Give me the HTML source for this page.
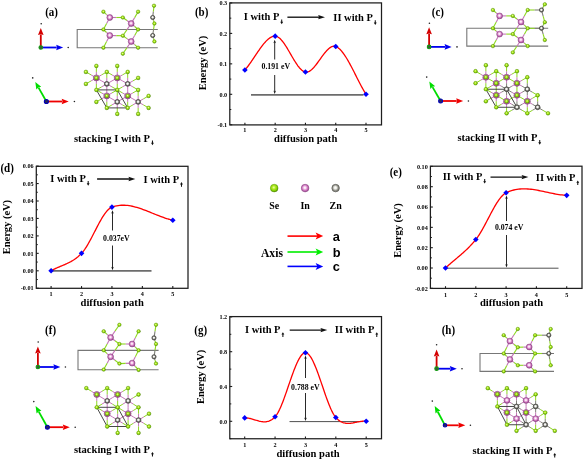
<!DOCTYPE html>
<html><head><meta charset="utf-8"><style>
html,body{margin:0;padding:0;background:#fff;}
body{width:583px;height:459px;overflow:hidden;font-family:"Liberation Serif",serif;}
svg{display:block;filter:blur(0.3px);}
</style></head><body>
<svg width="583" height="459" viewBox="0 0 583 459">
<rect width="583" height="459" fill="#fff"/>
<defs>
<radialGradient id="gSe" cx="0.45" cy="0.42" r="0.6"><stop offset="0" stop-color="#f0ffb0"/><stop offset="0.35" stop-color="#b4ec28"/><stop offset="0.75" stop-color="#7ccc00"/><stop offset="1" stop-color="#3f7a00"/></radialGradient>
<radialGradient id="gIn" cx="0.47" cy="0.45" r="0.58"><stop offset="0" stop-color="#ffffff"/><stop offset="0.22" stop-color="#fae0f4"/><stop offset="0.55" stop-color="#d884c8"/><stop offset="0.85" stop-color="#a8509c"/><stop offset="1" stop-color="#74306c"/></radialGradient>
<radialGradient id="gZn" cx="0.47" cy="0.45" r="0.58"><stop offset="0" stop-color="#ffffff"/><stop offset="0.3" stop-color="#eeeeea"/><stop offset="0.55" stop-color="#8a8a84"/><stop offset="0.8" stop-color="#55554f"/><stop offset="1" stop-color="#3a3a36"/></radialGradient>
<radialGradient id="gZnL" cx="0.47" cy="0.45" r="0.58"><stop offset="0" stop-color="#ffffff"/><stop offset="0.3" stop-color="#ececE6"/><stop offset="0.6" stop-color="#9c9c94"/><stop offset="0.85" stop-color="#76766e"/><stop offset="1" stop-color="#55554f"/></radialGradient>
</defs>
<rect x="229.80" y="2.90" width="151.70" height="122.00" fill="none" stroke="#1e1e1e" stroke-width="1.25"/>
<line x1="229.80" y1="2.95" x2="232.20" y2="2.95" stroke="#1c1c1c" stroke-width="1.1"/>
<text x="0" y="0" font-family="'Liberation Serif', serif" font-size="6.2" font-weight="bold" text-anchor="end" fill="#000" transform="translate(227.20 5.15) scale(1 1.06)">0.3</text>
<line x1="229.80" y1="33.40" x2="232.20" y2="33.40" stroke="#1c1c1c" stroke-width="1.1"/>
<text x="0" y="0" font-family="'Liberation Serif', serif" font-size="6.2" font-weight="bold" text-anchor="end" fill="#000" transform="translate(227.20 35.60) scale(1 1.06)">0.2</text>
<line x1="229.80" y1="63.85" x2="232.20" y2="63.85" stroke="#1c1c1c" stroke-width="1.1"/>
<text x="0" y="0" font-family="'Liberation Serif', serif" font-size="6.2" font-weight="bold" text-anchor="end" fill="#000" transform="translate(227.20 66.05) scale(1 1.06)">0.1</text>
<line x1="229.80" y1="94.30" x2="232.20" y2="94.30" stroke="#1c1c1c" stroke-width="1.1"/>
<text x="0" y="0" font-family="'Liberation Serif', serif" font-size="6.2" font-weight="bold" text-anchor="end" fill="#000" transform="translate(227.20 96.50) scale(1 1.06)">0.0</text>
<line x1="229.80" y1="124.75" x2="232.20" y2="124.75" stroke="#1c1c1c" stroke-width="1.1"/>
<text x="0" y="0" font-family="'Liberation Serif', serif" font-size="6.2" font-weight="bold" text-anchor="end" fill="#000" transform="translate(227.20 126.95) scale(1 1.06)">-0.1</text>
<line x1="229.80" y1="18.17" x2="231.30" y2="18.17" stroke="#1c1c1c" stroke-width="1.0"/>
<line x1="229.80" y1="48.62" x2="231.30" y2="48.62" stroke="#1c1c1c" stroke-width="1.0"/>
<line x1="229.80" y1="79.08" x2="231.30" y2="79.08" stroke="#1c1c1c" stroke-width="1.0"/>
<line x1="229.80" y1="109.52" x2="231.30" y2="109.52" stroke="#1c1c1c" stroke-width="1.0"/>
<line x1="244.90" y1="124.90" x2="244.90" y2="122.70" stroke="#1c1c1c" stroke-width="1.1"/>
<text x="0" y="0" font-family="'Liberation Serif', serif" font-size="6.2" font-weight="bold" text-anchor="middle" fill="#000" transform="translate(244.90 132.10) scale(1 1.06)">1</text>
<line x1="275.18" y1="124.90" x2="275.18" y2="122.70" stroke="#1c1c1c" stroke-width="1.1"/>
<text x="0" y="0" font-family="'Liberation Serif', serif" font-size="6.2" font-weight="bold" text-anchor="middle" fill="#000" transform="translate(275.18 132.10) scale(1 1.06)">2</text>
<line x1="305.45" y1="124.90" x2="305.45" y2="122.70" stroke="#1c1c1c" stroke-width="1.1"/>
<text x="0" y="0" font-family="'Liberation Serif', serif" font-size="6.2" font-weight="bold" text-anchor="middle" fill="#000" transform="translate(305.45 132.10) scale(1 1.06)">3</text>
<line x1="335.73" y1="124.90" x2="335.73" y2="122.70" stroke="#1c1c1c" stroke-width="1.1"/>
<text x="0" y="0" font-family="'Liberation Serif', serif" font-size="6.2" font-weight="bold" text-anchor="middle" fill="#000" transform="translate(335.73 132.10) scale(1 1.06)">4</text>
<line x1="366.00" y1="124.90" x2="366.00" y2="122.70" stroke="#1c1c1c" stroke-width="1.1"/>
<text x="0" y="0" font-family="'Liberation Serif', serif" font-size="6.2" font-weight="bold" text-anchor="middle" fill="#000" transform="translate(366.00 132.10) scale(1 1.06)">5</text>
<text x="0" y="0" font-family="'Liberation Serif', serif" font-size="10.6" font-weight="bold" text-anchor="middle" fill="#000" transform="translate(305.65 142.00) scale(1 1.06)">diffusion path</text>
<text x="0" y="0" font-family="'Liberation Serif', serif" font-size="10.5" font-weight="bold" text-anchor="middle" fill="#000" transform="translate(205.90 63.00) rotate(-90) scale(1 1.06)">Energy (eV)</text>
<text x="0" y="0" font-family="'Liberation Serif', serif" font-size="11" font-weight="bold" text-anchor="start" fill="#000" transform="translate(194.90 16.20) scale(1 1.06)">(b)</text>
<line x1="251.00" y1="94.90" x2="363.50" y2="94.90" stroke="#6c6c6c" stroke-width="1.6"/>
<polyline points="244.90,69.94 245.66,69.07 246.41,68.17 247.17,67.22 247.93,66.25 248.68,65.24 249.44,64.20 250.20,63.14 250.96,62.06 251.71,60.97 252.47,59.86 253.23,58.73 253.98,57.60 254.74,56.47 255.50,55.33 256.25,54.20 257.01,53.07 257.77,51.95 258.52,50.85 259.28,49.76 260.04,48.68 260.79,47.63 261.55,46.60 262.31,45.61 263.06,44.64 263.82,43.71 264.58,42.81 265.34,41.96 266.09,41.16 266.85,40.40 267.61,39.69 268.36,39.03 269.12,38.44 269.88,37.90 270.63,37.43 271.39,37.03 272.15,36.70 272.90,36.44 273.66,36.26 274.42,36.16 275.18,36.14 275.93,36.23 276.69,36.44 277.45,36.76 278.20,37.19 278.96,37.72 279.72,38.34 280.47,39.05 281.23,39.85 281.99,40.72 282.74,41.66 283.50,42.67 284.26,43.73 285.01,44.85 285.77,46.01 286.53,47.21 287.29,48.44 288.04,49.71 288.80,50.99 289.56,52.29 290.31,53.59 291.07,54.90 291.83,56.21 292.58,57.50 293.34,58.78 294.10,60.04 294.85,61.27 295.61,62.46 296.37,63.62 297.12,64.72 297.88,65.78 298.64,66.78 299.39,67.71 300.15,68.57 300.91,69.35 301.67,70.05 302.42,70.66 303.18,71.17 303.94,71.58 304.69,71.88 305.45,72.07 306.21,72.14 306.96,72.09 307.72,71.94 308.48,71.67 309.23,71.32 309.99,70.87 310.75,70.33 311.50,69.72 312.26,69.03 313.02,68.28 313.78,67.47 314.53,66.61 315.29,65.70 316.05,64.75 316.80,63.76 317.56,62.75 318.32,61.71 319.07,60.66 319.83,59.60 320.59,58.54 321.34,57.48 322.10,56.43 322.86,55.40 323.62,54.39 324.37,53.41 325.13,52.47 325.89,51.57 326.64,50.71 327.40,49.91 328.16,49.17 328.91,48.50 329.67,47.90 330.43,47.38 331.18,46.94 331.94,46.60 332.70,46.36 333.45,46.22 334.21,46.19 334.97,46.28 335.73,46.49 336.50,46.83 337.28,47.25 338.05,47.77 338.83,48.37 339.61,49.05 340.38,49.81 341.16,50.64 341.94,51.54 342.71,52.52 343.49,53.55 344.26,54.64 345.04,55.79 345.82,56.99 346.59,58.24 347.37,59.54 348.15,60.87 348.92,62.24 349.70,63.65 350.47,65.08 351.25,66.54 352.03,68.03 352.80,69.53 353.58,71.05 354.36,72.57 355.13,74.11 355.91,75.65 356.68,77.19 357.46,78.72 358.24,80.25 359.01,81.76 359.79,83.27 360.57,84.75 361.34,86.21 362.12,87.65 362.89,89.05 363.67,90.42 364.45,91.76 365.22,93.05 366.00,94.30" fill="none" stroke="#ff0000" stroke-width="1.3" stroke-linejoin="round" stroke-linecap="round"/>
<polygon points="244.90,67.14 247.70,69.94 244.90,72.74 242.10,69.94" fill="#0000ff"/>
<polygon points="275.18,33.34 277.98,36.14 275.18,38.94 272.38,36.14" fill="#0000ff"/>
<polygon points="305.45,69.27 308.25,72.07 305.45,74.87 302.65,72.07" fill="#0000ff"/>
<polygon points="335.73,43.69 338.53,46.49 335.73,49.29 332.93,46.49" fill="#0000ff"/>
<polygon points="366.00,91.50 368.80,94.30 366.00,97.10 363.20,94.30" fill="#0000ff"/>
<line x1="274.70" y1="59.50" x2="274.70" y2="41.90" stroke="#111" stroke-width="0.9"/>
<polygon points="274.70,39.80 273.40,43.30 274.70,42.25 276.00,43.30" fill="#111"/>
<line x1="274.70" y1="75.00" x2="274.70" y2="92.00" stroke="#111" stroke-width="0.9"/>
<polygon points="274.70,94.10 273.40,90.60 274.70,91.65 276.00,90.60" fill="#111"/>
<text x="0" y="0" font-family="'Liberation Serif', serif" font-size="7.8" font-weight="bold" text-anchor="start" fill="#000" transform="translate(261.50 69.30) scale(1 1.06)">0.191 eV</text>
<text x="0" y="0" font-family="'Liberation Serif', serif" font-size="10.5" font-weight="bold" text-anchor="start" fill="#000" transform="translate(243.80 20.10) scale(1 1.06)">I with P</text>
<line x1="281.69" y1="19.50" x2="281.69" y2="22.70" stroke="#111" stroke-width="1.05"/>
<polygon points="281.69,24.20 280.24,21.80 283.14,21.80" fill="#111"/>
<text x="0" y="0" font-family="'Liberation Serif', serif" font-size="10.5" font-weight="bold" text-anchor="start" fill="#000" transform="translate(333.30 20.90) scale(1 1.06)">II with P</text>
<line x1="375.27" y1="20.30" x2="375.27" y2="23.50" stroke="#111" stroke-width="1.05"/>
<polygon points="375.27,25.00 373.82,22.60 376.72,22.60" fill="#111"/>
<line x1="287.40" y1="17.20" x2="319.00" y2="17.20" stroke="#111" stroke-width="1.35"/>
<polygon points="325.00,17.20 318.20,15.05 319.02,17.20 318.20,19.35" fill="#111"/>
<rect x="36.30" y="166.30" width="151.70" height="122.00" fill="none" stroke="#1e1e1e" stroke-width="1.25"/>
<line x1="36.30" y1="166.10" x2="38.70" y2="166.10" stroke="#1c1c1c" stroke-width="1.1"/>
<text x="0" y="0" font-family="'Liberation Serif', serif" font-size="6.2" font-weight="bold" text-anchor="end" fill="#000" transform="translate(33.70 168.30) scale(1 1.06)">0.06</text>
<line x1="36.30" y1="183.55" x2="38.70" y2="183.55" stroke="#1c1c1c" stroke-width="1.1"/>
<text x="0" y="0" font-family="'Liberation Serif', serif" font-size="6.2" font-weight="bold" text-anchor="end" fill="#000" transform="translate(33.70 185.75) scale(1 1.06)">0.05</text>
<line x1="36.30" y1="201.00" x2="38.70" y2="201.00" stroke="#1c1c1c" stroke-width="1.1"/>
<text x="0" y="0" font-family="'Liberation Serif', serif" font-size="6.2" font-weight="bold" text-anchor="end" fill="#000" transform="translate(33.70 203.20) scale(1 1.06)">0.04</text>
<line x1="36.30" y1="218.45" x2="38.70" y2="218.45" stroke="#1c1c1c" stroke-width="1.1"/>
<text x="0" y="0" font-family="'Liberation Serif', serif" font-size="6.2" font-weight="bold" text-anchor="end" fill="#000" transform="translate(33.70 220.65) scale(1 1.06)">0.03</text>
<line x1="36.30" y1="235.90" x2="38.70" y2="235.90" stroke="#1c1c1c" stroke-width="1.1"/>
<text x="0" y="0" font-family="'Liberation Serif', serif" font-size="6.2" font-weight="bold" text-anchor="end" fill="#000" transform="translate(33.70 238.10) scale(1 1.06)">0.02</text>
<line x1="36.30" y1="253.35" x2="38.70" y2="253.35" stroke="#1c1c1c" stroke-width="1.1"/>
<text x="0" y="0" font-family="'Liberation Serif', serif" font-size="6.2" font-weight="bold" text-anchor="end" fill="#000" transform="translate(33.70 255.55) scale(1 1.06)">0.01</text>
<line x1="36.30" y1="270.80" x2="38.70" y2="270.80" stroke="#1c1c1c" stroke-width="1.1"/>
<text x="0" y="0" font-family="'Liberation Serif', serif" font-size="6.2" font-weight="bold" text-anchor="end" fill="#000" transform="translate(33.70 273.00) scale(1 1.06)">0.00</text>
<line x1="36.30" y1="288.25" x2="38.70" y2="288.25" stroke="#1c1c1c" stroke-width="1.1"/>
<text x="0" y="0" font-family="'Liberation Serif', serif" font-size="6.2" font-weight="bold" text-anchor="end" fill="#000" transform="translate(33.70 290.45) scale(1 1.06)">-0.01</text>
<line x1="36.30" y1="174.82" x2="37.80" y2="174.82" stroke="#1c1c1c" stroke-width="1.0"/>
<line x1="36.30" y1="192.28" x2="37.80" y2="192.28" stroke="#1c1c1c" stroke-width="1.0"/>
<line x1="36.30" y1="209.72" x2="37.80" y2="209.72" stroke="#1c1c1c" stroke-width="1.0"/>
<line x1="36.30" y1="227.18" x2="37.80" y2="227.18" stroke="#1c1c1c" stroke-width="1.0"/>
<line x1="36.30" y1="244.62" x2="37.80" y2="244.62" stroke="#1c1c1c" stroke-width="1.0"/>
<line x1="36.30" y1="262.07" x2="37.80" y2="262.07" stroke="#1c1c1c" stroke-width="1.0"/>
<line x1="36.30" y1="279.53" x2="37.80" y2="279.53" stroke="#1c1c1c" stroke-width="1.0"/>
<line x1="51.10" y1="288.30" x2="51.10" y2="286.10" stroke="#1c1c1c" stroke-width="1.1"/>
<text x="0" y="0" font-family="'Liberation Serif', serif" font-size="6.2" font-weight="bold" text-anchor="middle" fill="#000" transform="translate(51.10 295.50) scale(1 1.06)">1</text>
<line x1="81.53" y1="288.30" x2="81.53" y2="286.10" stroke="#1c1c1c" stroke-width="1.1"/>
<text x="0" y="0" font-family="'Liberation Serif', serif" font-size="6.2" font-weight="bold" text-anchor="middle" fill="#000" transform="translate(81.53 295.50) scale(1 1.06)">2</text>
<line x1="111.95" y1="288.30" x2="111.95" y2="286.10" stroke="#1c1c1c" stroke-width="1.1"/>
<text x="0" y="0" font-family="'Liberation Serif', serif" font-size="6.2" font-weight="bold" text-anchor="middle" fill="#000" transform="translate(111.95 295.50) scale(1 1.06)">3</text>
<line x1="142.38" y1="288.30" x2="142.38" y2="286.10" stroke="#1c1c1c" stroke-width="1.1"/>
<text x="0" y="0" font-family="'Liberation Serif', serif" font-size="6.2" font-weight="bold" text-anchor="middle" fill="#000" transform="translate(142.38 295.50) scale(1 1.06)">4</text>
<line x1="172.80" y1="288.30" x2="172.80" y2="286.10" stroke="#1c1c1c" stroke-width="1.1"/>
<text x="0" y="0" font-family="'Liberation Serif', serif" font-size="6.2" font-weight="bold" text-anchor="middle" fill="#000" transform="translate(172.80 295.50) scale(1 1.06)">5</text>
<text x="0" y="0" font-family="'Liberation Serif', serif" font-size="10.6" font-weight="bold" text-anchor="middle" fill="#000" transform="translate(112.15 306.20) scale(1 1.06)">diffusion path</text>
<text x="0" y="0" font-family="'Liberation Serif', serif" font-size="10.5" font-weight="bold" text-anchor="middle" fill="#000" transform="translate(10.40 227.10) rotate(-90) scale(1 1.06)">Energy (eV)</text>
<text x="0" y="0" font-family="'Liberation Serif', serif" font-size="11" font-weight="bold" text-anchor="start" fill="#000" transform="translate(0.40 172.20) scale(1 1.06)">(d)</text>
<line x1="52.00" y1="270.90" x2="151.50" y2="270.90" stroke="#6c6c6c" stroke-width="1.6"/>
<polyline points="51.10,270.80 51.86,270.37 52.62,269.96 53.38,269.57 54.14,269.18 54.90,268.82 55.66,268.46 56.42,268.11 57.19,267.77 57.95,267.44 58.71,267.11 59.47,266.79 60.23,266.47 60.99,266.16 61.75,265.84 62.51,265.52 63.27,265.20 64.03,264.88 64.79,264.55 65.55,264.22 66.31,263.87 67.07,263.52 67.83,263.16 68.59,262.79 69.36,262.40 70.12,262.00 70.88,261.59 71.64,261.15 72.40,260.70 73.16,260.23 73.92,259.74 74.68,259.22 75.44,258.68 76.20,258.12 76.96,257.53 77.72,256.91 78.48,256.26 79.24,255.58 80.00,254.87 80.76,254.13 81.53,253.35 82.29,252.51 83.05,251.60 83.81,250.62 84.57,249.58 85.33,248.47 86.09,247.30 86.85,246.08 87.61,244.82 88.37,243.51 89.13,242.16 89.89,240.78 90.65,239.38 91.41,237.94 92.17,236.49 92.93,235.02 93.70,233.55 94.46,232.06 95.22,230.58 95.98,229.10 96.74,227.63 97.50,226.17 98.26,224.73 99.02,223.31 99.78,221.92 100.54,220.56 101.30,219.23 102.06,217.95 102.82,216.71 103.58,215.53 104.34,214.39 105.10,213.32 105.87,212.31 106.63,211.37 107.39,210.51 108.15,209.72 108.91,209.01 109.67,208.39 110.43,207.87 111.19,207.44 111.95,207.11 113.51,206.59 115.07,206.15 116.63,205.81 118.19,205.54 119.75,205.36 121.31,205.24 122.87,205.20 124.43,205.23 125.99,205.32 127.55,205.47 129.11,205.68 130.67,205.94 132.23,206.26 133.79,206.61 135.35,207.02 136.91,207.46 138.47,207.93 140.03,208.44 141.59,208.97 143.16,209.54 144.72,210.12 146.28,210.72 147.84,211.33 149.40,211.96 150.96,212.59 152.52,213.23 154.08,213.86 155.64,214.49 157.20,215.12 158.76,215.73 160.32,216.33 161.88,216.92 163.44,217.48 165.00,218.01 166.56,218.52 168.12,219.00 169.68,219.44 171.24,219.84 172.80,220.19" fill="none" stroke="#ff0000" stroke-width="1.3" stroke-linejoin="round" stroke-linecap="round"/>
<polygon points="51.10,268.00 53.90,270.80 51.10,273.60 48.30,270.80" fill="#0000ff"/>
<polygon points="81.53,250.55 84.33,253.35 81.53,256.15 78.73,253.35" fill="#0000ff"/>
<polygon points="111.95,204.31 114.75,207.11 111.95,209.91 109.15,207.11" fill="#0000ff"/>
<polygon points="172.80,217.39 175.60,220.19 172.80,223.00 170.00,220.19" fill="#0000ff"/>
<line x1="112.50" y1="230.50" x2="112.50" y2="212.30" stroke="#111" stroke-width="0.9"/>
<polygon points="112.50,210.20 111.20,213.70 112.50,212.65 113.80,213.70" fill="#111"/>
<line x1="112.50" y1="245.50" x2="112.50" y2="268.10" stroke="#111" stroke-width="0.9"/>
<polygon points="112.50,270.20 111.20,266.70 112.50,267.75 113.80,266.70" fill="#111"/>
<text x="0" y="0" font-family="'Liberation Serif', serif" font-size="7.8" font-weight="bold" text-anchor="start" fill="#000" transform="translate(103.10 241.00) scale(1 1.06)">0.037eV</text>
<text x="0" y="0" font-family="'Liberation Serif', serif" font-size="10.5" font-weight="bold" text-anchor="start" fill="#000" transform="translate(50.30 181.60) scale(1 1.06)">I with P</text>
<line x1="88.19" y1="181.00" x2="88.19" y2="184.20" stroke="#111" stroke-width="1.05"/>
<polygon points="88.19,185.70 86.74,183.30 89.64,183.30" fill="#111"/>
<text x="0" y="0" font-family="'Liberation Serif', serif" font-size="10.5" font-weight="bold" text-anchor="start" fill="#000" transform="translate(143.60 182.70) scale(1 1.06)">I with P</text>
<line x1="181.49" y1="183.60" x2="181.49" y2="186.80" stroke="#111" stroke-width="1.05"/>
<polygon points="181.49,182.10 180.04,184.50 182.94,184.50" fill="#111"/>
<line x1="97.10" y1="179.00" x2="129.30" y2="179.00" stroke="#111" stroke-width="1.35"/>
<polygon points="135.30,179.00 128.50,176.85 129.32,179.00 128.50,181.15" fill="#111"/>
<rect x="430.40" y="166.20" width="151.60" height="122.20" fill="none" stroke="#1e1e1e" stroke-width="1.25"/>
<line x1="430.40" y1="166.38" x2="432.80" y2="166.38" stroke="#1c1c1c" stroke-width="1.1"/>
<text x="0" y="0" font-family="'Liberation Serif', serif" font-size="6.2" font-weight="bold" text-anchor="end" fill="#000" transform="translate(427.80 168.57) scale(1 1.06)">0.10</text>
<line x1="430.40" y1="186.70" x2="432.80" y2="186.70" stroke="#1c1c1c" stroke-width="1.1"/>
<text x="0" y="0" font-family="'Liberation Serif', serif" font-size="6.2" font-weight="bold" text-anchor="end" fill="#000" transform="translate(427.80 188.90) scale(1 1.06)">0.08</text>
<line x1="430.40" y1="207.03" x2="432.80" y2="207.03" stroke="#1c1c1c" stroke-width="1.1"/>
<text x="0" y="0" font-family="'Liberation Serif', serif" font-size="6.2" font-weight="bold" text-anchor="end" fill="#000" transform="translate(427.80 209.22) scale(1 1.06)">0.06</text>
<line x1="430.40" y1="227.35" x2="432.80" y2="227.35" stroke="#1c1c1c" stroke-width="1.1"/>
<text x="0" y="0" font-family="'Liberation Serif', serif" font-size="6.2" font-weight="bold" text-anchor="end" fill="#000" transform="translate(427.80 229.55) scale(1 1.06)">0.04</text>
<line x1="430.40" y1="247.68" x2="432.80" y2="247.68" stroke="#1c1c1c" stroke-width="1.1"/>
<text x="0" y="0" font-family="'Liberation Serif', serif" font-size="6.2" font-weight="bold" text-anchor="end" fill="#000" transform="translate(427.80 249.88) scale(1 1.06)">0.02</text>
<line x1="430.40" y1="268.00" x2="432.80" y2="268.00" stroke="#1c1c1c" stroke-width="1.1"/>
<text x="0" y="0" font-family="'Liberation Serif', serif" font-size="6.2" font-weight="bold" text-anchor="end" fill="#000" transform="translate(427.80 270.20) scale(1 1.06)">0.00</text>
<line x1="430.40" y1="288.32" x2="432.80" y2="288.32" stroke="#1c1c1c" stroke-width="1.1"/>
<text x="0" y="0" font-family="'Liberation Serif', serif" font-size="6.2" font-weight="bold" text-anchor="end" fill="#000" transform="translate(427.80 290.52) scale(1 1.06)">-0.02</text>
<line x1="430.40" y1="176.54" x2="431.90" y2="176.54" stroke="#1c1c1c" stroke-width="1.0"/>
<line x1="430.40" y1="196.86" x2="431.90" y2="196.86" stroke="#1c1c1c" stroke-width="1.0"/>
<line x1="430.40" y1="217.19" x2="431.90" y2="217.19" stroke="#1c1c1c" stroke-width="1.0"/>
<line x1="430.40" y1="237.51" x2="431.90" y2="237.51" stroke="#1c1c1c" stroke-width="1.0"/>
<line x1="430.40" y1="257.84" x2="431.90" y2="257.84" stroke="#1c1c1c" stroke-width="1.0"/>
<line x1="430.40" y1="278.16" x2="431.90" y2="278.16" stroke="#1c1c1c" stroke-width="1.0"/>
<line x1="445.50" y1="288.40" x2="445.50" y2="286.20" stroke="#1c1c1c" stroke-width="1.1"/>
<text x="0" y="0" font-family="'Liberation Serif', serif" font-size="6.2" font-weight="bold" text-anchor="middle" fill="#000" transform="translate(445.50 296.60) scale(1 1.06)">1</text>
<line x1="475.80" y1="288.40" x2="475.80" y2="286.20" stroke="#1c1c1c" stroke-width="1.1"/>
<text x="0" y="0" font-family="'Liberation Serif', serif" font-size="6.2" font-weight="bold" text-anchor="middle" fill="#000" transform="translate(475.80 296.60) scale(1 1.06)">2</text>
<line x1="506.10" y1="288.40" x2="506.10" y2="286.20" stroke="#1c1c1c" stroke-width="1.1"/>
<text x="0" y="0" font-family="'Liberation Serif', serif" font-size="6.2" font-weight="bold" text-anchor="middle" fill="#000" transform="translate(506.10 296.60) scale(1 1.06)">3</text>
<line x1="536.40" y1="288.40" x2="536.40" y2="286.20" stroke="#1c1c1c" stroke-width="1.1"/>
<text x="0" y="0" font-family="'Liberation Serif', serif" font-size="6.2" font-weight="bold" text-anchor="middle" fill="#000" transform="translate(536.40 296.60) scale(1 1.06)">4</text>
<line x1="566.70" y1="288.40" x2="566.70" y2="286.20" stroke="#1c1c1c" stroke-width="1.1"/>
<text x="0" y="0" font-family="'Liberation Serif', serif" font-size="6.2" font-weight="bold" text-anchor="middle" fill="#000" transform="translate(566.70 296.60) scale(1 1.06)">5</text>
<text x="0" y="0" font-family="'Liberation Serif', serif" font-size="10.6" font-weight="bold" text-anchor="middle" fill="#000" transform="translate(511.50 306.30) scale(1 1.06)">diffusion path</text>
<text x="0" y="0" font-family="'Liberation Serif', serif" font-size="10.5" font-weight="bold" text-anchor="middle" fill="#000" transform="translate(400.60 230.50) rotate(-90) scale(1 1.06)">Energy (eV)</text>
<text x="0" y="0" font-family="'Liberation Serif', serif" font-size="11" font-weight="bold" text-anchor="start" fill="#000" transform="translate(389.70 176.00) scale(1 1.06)">(e)</text>
<line x1="446.00" y1="268.20" x2="558.50" y2="268.20" stroke="#505050" stroke-width="1.0"/>
<polyline points="445.50,268.00 446.26,267.29 447.01,266.60 447.77,265.91 448.53,265.24 449.29,264.57 450.05,263.91 450.80,263.25 451.56,262.60 452.32,261.96 453.07,261.31 453.83,260.68 454.59,260.04 455.35,259.40 456.11,258.77 456.86,258.13 457.62,257.50 458.38,256.86 459.13,256.21 459.89,255.57 460.65,254.92 461.41,254.26 462.17,253.59 462.92,252.92 463.68,252.24 464.44,251.56 465.19,250.86 465.95,250.15 466.71,249.43 467.47,248.69 468.23,247.94 468.98,247.18 469.74,246.41 470.50,245.61 471.25,244.80 472.01,243.98 472.77,243.13 473.53,242.27 474.29,241.38 475.04,240.47 475.80,239.54 476.56,238.57 477.31,237.54 478.07,236.46 478.83,235.32 479.59,234.14 480.35,232.91 481.10,231.64 481.86,230.34 482.62,229.01 483.38,227.64 484.13,226.26 484.89,224.85 485.65,223.42 486.41,221.99 487.16,220.54 487.92,219.09 488.68,217.64 489.44,216.19 490.19,214.75 490.95,213.31 491.71,211.89 492.47,210.49 493.22,209.12 493.98,207.76 494.74,206.44 495.50,205.15 496.25,203.90 497.01,202.69 497.77,201.53 498.53,200.41 499.28,199.35 500.04,198.34 500.80,197.40 501.56,196.52 502.31,195.70 503.07,194.96 503.83,194.30 504.59,193.71 505.34,193.21 506.10,192.80 507.65,192.08 509.21,191.45 510.76,190.89 512.32,190.41 513.87,190.00 515.42,189.66 516.98,189.39 518.53,189.17 520.08,189.01 521.64,188.91 523.19,188.86 524.75,188.86 526.30,188.90 527.85,188.99 529.41,189.11 530.96,189.27 532.52,189.46 534.07,189.69 535.62,189.93 537.18,190.20 538.73,190.49 540.28,190.80 541.84,191.12 543.39,191.45 544.95,191.78 546.50,192.12 548.05,192.46 549.61,192.79 551.16,193.12 552.72,193.44 554.27,193.75 555.82,194.04 557.38,194.31 558.93,194.55 560.48,194.78 562.04,194.97 563.59,195.13 565.15,195.25 566.70,195.34" fill="none" stroke="#ff0000" stroke-width="1.3" stroke-linejoin="round" stroke-linecap="round"/>
<polygon points="445.50,265.20 448.30,268.00 445.50,270.80 442.70,268.00" fill="#0000ff"/>
<polygon points="475.80,236.74 478.60,239.54 475.80,242.34 473.00,239.54" fill="#0000ff"/>
<polygon points="506.10,190.00 508.90,192.80 506.10,195.60 503.30,192.80" fill="#0000ff"/>
<polygon points="566.70,192.54 569.50,195.34 566.70,198.14 563.90,195.34" fill="#0000ff"/>
<line x1="506.50" y1="221.00" x2="506.50" y2="197.60" stroke="#111" stroke-width="0.9"/>
<polygon points="506.50,195.50 505.20,199.00 506.50,197.95 507.80,199.00" fill="#111"/>
<line x1="506.50" y1="235.00" x2="506.50" y2="265.50" stroke="#111" stroke-width="0.9"/>
<polygon points="506.50,267.60 505.20,264.10 506.50,265.15 507.80,264.10" fill="#111"/>
<text x="0" y="0" font-family="'Liberation Serif', serif" font-size="7.8" font-weight="bold" text-anchor="start" fill="#000" transform="translate(494.90 229.80) scale(1 1.06)">0.074 eV</text>
<text x="0" y="0" font-family="'Liberation Serif', serif" font-size="10.5" font-weight="bold" text-anchor="start" fill="#000" transform="translate(442.70 179.50) scale(1 1.06)">II with P</text>
<line x1="484.67" y1="178.90" x2="484.67" y2="182.10" stroke="#111" stroke-width="1.05"/>
<polygon points="484.67,183.60 483.22,181.20 486.12,181.20" fill="#111"/>
<text x="0" y="0" font-family="'Liberation Serif', serif" font-size="10.5" font-weight="bold" text-anchor="start" fill="#000" transform="translate(535.80 181.00) scale(1 1.06)">II with P</text>
<line x1="577.77" y1="181.90" x2="577.77" y2="185.10" stroke="#111" stroke-width="1.05"/>
<polygon points="577.77,180.40 576.32,182.80 579.22,182.80" fill="#111"/>
<line x1="490.50" y1="177.10" x2="522.40" y2="177.10" stroke="#111" stroke-width="1.35"/>
<polygon points="528.40,177.10 521.60,174.95 522.42,177.10 521.60,179.25" fill="#111"/>
<rect x="229.80" y="316.60" width="151.70" height="122.15" fill="none" stroke="#1e1e1e" stroke-width="1.25"/>
<line x1="229.80" y1="316.90" x2="232.20" y2="316.90" stroke="#1c1c1c" stroke-width="1.1"/>
<text x="0" y="0" font-family="'Liberation Serif', serif" font-size="6.2" font-weight="bold" text-anchor="end" fill="#000" transform="translate(227.20 319.10) scale(1 1.06)">1.2</text>
<line x1="229.80" y1="351.70" x2="232.20" y2="351.70" stroke="#1c1c1c" stroke-width="1.1"/>
<text x="0" y="0" font-family="'Liberation Serif', serif" font-size="6.2" font-weight="bold" text-anchor="end" fill="#000" transform="translate(227.20 353.90) scale(1 1.06)">0.8</text>
<line x1="229.80" y1="386.50" x2="232.20" y2="386.50" stroke="#1c1c1c" stroke-width="1.1"/>
<text x="0" y="0" font-family="'Liberation Serif', serif" font-size="6.2" font-weight="bold" text-anchor="end" fill="#000" transform="translate(227.20 388.70) scale(1 1.06)">0.4</text>
<line x1="229.80" y1="421.30" x2="232.20" y2="421.30" stroke="#1c1c1c" stroke-width="1.1"/>
<text x="0" y="0" font-family="'Liberation Serif', serif" font-size="6.2" font-weight="bold" text-anchor="end" fill="#000" transform="translate(227.20 423.50) scale(1 1.06)">0.0</text>
<line x1="229.80" y1="334.30" x2="231.30" y2="334.30" stroke="#1c1c1c" stroke-width="1.0"/>
<line x1="229.80" y1="369.10" x2="231.30" y2="369.10" stroke="#1c1c1c" stroke-width="1.0"/>
<line x1="229.80" y1="403.90" x2="231.30" y2="403.90" stroke="#1c1c1c" stroke-width="1.0"/>
<line x1="229.80" y1="438.70" x2="231.30" y2="438.70" stroke="#1c1c1c" stroke-width="1.0"/>
<line x1="244.70" y1="438.75" x2="244.70" y2="436.55" stroke="#1c1c1c" stroke-width="1.1"/>
<text x="0" y="0" font-family="'Liberation Serif', serif" font-size="6.2" font-weight="bold" text-anchor="middle" fill="#000" transform="translate(244.70 447.15) scale(1 1.06)">1</text>
<line x1="275.07" y1="438.75" x2="275.07" y2="436.55" stroke="#1c1c1c" stroke-width="1.1"/>
<text x="0" y="0" font-family="'Liberation Serif', serif" font-size="6.2" font-weight="bold" text-anchor="middle" fill="#000" transform="translate(275.07 447.15) scale(1 1.06)">2</text>
<line x1="305.45" y1="438.75" x2="305.45" y2="436.55" stroke="#1c1c1c" stroke-width="1.1"/>
<text x="0" y="0" font-family="'Liberation Serif', serif" font-size="6.2" font-weight="bold" text-anchor="middle" fill="#000" transform="translate(305.45 447.15) scale(1 1.06)">3</text>
<line x1="335.82" y1="438.75" x2="335.82" y2="436.55" stroke="#1c1c1c" stroke-width="1.1"/>
<text x="0" y="0" font-family="'Liberation Serif', serif" font-size="6.2" font-weight="bold" text-anchor="middle" fill="#000" transform="translate(335.82 447.15) scale(1 1.06)">4</text>
<line x1="366.20" y1="438.75" x2="366.20" y2="436.55" stroke="#1c1c1c" stroke-width="1.1"/>
<text x="0" y="0" font-family="'Liberation Serif', serif" font-size="6.2" font-weight="bold" text-anchor="middle" fill="#000" transform="translate(366.20 447.15) scale(1 1.06)">5</text>
<text x="0" y="0" font-family="'Liberation Serif', serif" font-size="10.6" font-weight="bold" text-anchor="middle" fill="#000" transform="translate(308.05 456.70) scale(1 1.06)">diffusion path</text>
<text x="0" y="0" font-family="'Liberation Serif', serif" font-size="10.5" font-weight="bold" text-anchor="middle" fill="#000" transform="translate(204.30 376.90) rotate(-90) scale(1 1.06)">Energy (eV)</text>
<text x="0" y="0" font-family="'Liberation Serif', serif" font-size="11" font-weight="bold" text-anchor="start" fill="#000" transform="translate(194.30 334.00) scale(1 1.06)">(g)</text>
<line x1="289.50" y1="421.60" x2="363.00" y2="421.60" stroke="#505050" stroke-width="1.0"/>
<polyline points="244.70,417.91 245.46,417.90 246.22,417.93 246.98,417.99 247.74,418.08 248.50,418.20 249.26,418.34 250.02,418.50 250.77,418.69 251.53,418.89 252.29,419.10 253.05,419.32 253.81,419.55 254.57,419.78 255.33,420.02 256.09,420.25 256.85,420.47 257.61,420.69 258.37,420.90 259.13,421.10 259.89,421.27 260.65,421.43 261.41,421.57 262.17,421.68 262.93,421.76 263.68,421.81 264.44,421.82 265.20,421.80 265.96,421.74 266.72,421.63 267.48,421.48 268.24,421.28 269.00,421.03 269.76,420.72 270.52,420.35 271.28,419.93 272.04,419.44 272.80,418.88 273.56,418.25 274.32,417.55 275.07,416.78 275.83,415.88 276.59,414.84 277.35,413.66 278.11,412.34 278.87,410.90 279.63,409.35 280.39,407.69 281.15,405.94 281.91,404.09 282.67,402.17 283.43,400.18 284.19,398.13 284.95,396.03 285.71,393.89 286.47,391.71 287.22,389.51 287.98,387.30 288.74,385.07 289.50,382.85 290.26,380.64 291.02,378.46 291.78,376.30 292.54,374.18 293.30,372.11 294.06,370.09 294.82,368.14 295.58,366.26 296.34,364.47 297.10,362.77 297.86,361.17 298.62,359.68 299.38,358.32 300.13,357.08 300.89,355.97 301.65,355.02 302.41,354.22 303.17,353.58 303.93,353.12 304.69,352.83 305.45,352.74 306.21,352.85 306.97,353.15 307.73,353.63 308.49,354.28 309.25,355.09 310.01,356.06 310.77,357.17 311.52,358.42 312.28,359.80 313.04,361.30 313.80,362.91 314.56,364.62 315.32,366.42 316.08,368.30 316.84,370.26 317.60,372.29 318.36,374.37 319.12,376.50 319.88,378.67 320.64,380.87 321.40,383.09 322.16,385.32 322.92,387.55 323.68,389.79 324.43,392.00 325.19,394.19 325.95,396.35 326.71,398.47 327.47,400.54 328.23,402.55 328.99,404.50 329.75,406.36 330.51,408.14 331.27,409.83 332.03,411.41 332.79,412.89 333.55,414.24 334.31,415.46 335.07,416.54 335.82,417.47 336.60,418.31 337.38,419.07 338.16,419.76 338.94,420.38 339.72,420.93 340.50,421.41 341.28,421.84 342.06,422.20 342.83,422.51 343.61,422.77 344.39,422.98 345.17,423.14 345.95,423.26 346.73,423.34 347.51,423.38 348.29,423.39 349.07,423.36 349.84,423.31 350.62,423.24 351.40,423.14 352.18,423.03 352.96,422.90 353.74,422.75 354.52,422.60 355.30,422.44 356.07,422.28 356.85,422.12 357.63,421.96 358.41,421.81 359.19,421.66 359.97,421.53 360.75,421.42 361.53,421.32 362.31,421.25 363.08,421.19 363.86,421.17 364.64,421.18 365.42,421.22 366.20,421.30" fill="none" stroke="#ff0000" stroke-width="1.3" stroke-linejoin="round" stroke-linecap="round"/>
<polygon points="244.70,415.11 247.50,417.91 244.70,420.71 241.90,417.91" fill="#0000ff"/>
<polygon points="275.07,413.98 277.88,416.78 275.07,419.58 272.27,416.78" fill="#0000ff"/>
<polygon points="305.45,349.94 308.25,352.74 305.45,355.54 302.65,352.74" fill="#0000ff"/>
<polygon points="335.82,414.67 338.62,417.47 335.82,420.27 333.02,417.47" fill="#0000ff"/>
<polygon points="366.20,418.50 369.00,421.30 366.20,424.10 363.40,421.30" fill="#0000ff"/>
<line x1="305.50" y1="378.00" x2="305.50" y2="357.60" stroke="#111" stroke-width="0.9"/>
<polygon points="305.50,355.50 304.20,359.00 305.50,357.95 306.80,359.00" fill="#111"/>
<line x1="305.50" y1="393.00" x2="305.50" y2="418.90" stroke="#111" stroke-width="0.9"/>
<polygon points="305.50,421.00 304.20,417.50 305.50,418.55 306.80,417.50" fill="#111"/>
<text x="0" y="0" font-family="'Liberation Serif', serif" font-size="7.8" font-weight="bold" text-anchor="start" fill="#000" transform="translate(291.10 390.00) scale(1 1.06)">0.788 eV</text>
<text x="0" y="0" font-family="'Liberation Serif', serif" font-size="10.5" font-weight="bold" text-anchor="start" fill="#000" transform="translate(245.00 332.80) scale(1 1.06)">I with P</text>
<line x1="282.89" y1="333.70" x2="282.89" y2="336.90" stroke="#111" stroke-width="1.05"/>
<polygon points="282.89,332.20 281.44,334.60 284.34,334.60" fill="#111"/>
<text x="0" y="0" font-family="'Liberation Serif', serif" font-size="10.5" font-weight="bold" text-anchor="start" fill="#000" transform="translate(334.80 332.80) scale(1 1.06)">II with P</text>
<line x1="376.77" y1="333.70" x2="376.77" y2="336.90" stroke="#111" stroke-width="1.05"/>
<polygon points="376.77,332.20 375.32,334.60 378.22,334.60" fill="#111"/>
<line x1="289.70" y1="330.10" x2="321.30" y2="330.10" stroke="#111" stroke-width="1.35"/>
<polygon points="327.30,330.10 320.50,327.95 321.32,330.10 320.50,332.25" fill="#111"/>
<circle cx="274.20" cy="188.10" r="3.87" fill="url(#gSe)" stroke="#5c9400" stroke-width="0.45"/>
<text x="0" y="0" font-family="'Liberation Serif', serif" font-size="10.0" font-weight="bold" text-anchor="middle" fill="#000" transform="translate(274.20 208.50) scale(1 1.06)">Se</text>
<circle cx="305.10" cy="188.10" r="3.82" fill="url(#gIn)" stroke="#8a4482" stroke-width="0.55"/>
<text x="0" y="0" font-family="'Liberation Serif', serif" font-size="10.0" font-weight="bold" text-anchor="middle" fill="#000" transform="translate(305.10 208.50) scale(1 1.06)">In</text>
<circle cx="335.6" cy="188.1" r="3.75" fill="url(#gZnL)" stroke="#5a5a54" stroke-width="0.7"/>
<text x="0" y="0" font-family="'Liberation Serif', serif" font-size="10.0" font-weight="bold" text-anchor="middle" fill="#000" transform="translate(335.60 208.50) scale(1 1.06)">Zn</text>
<line x1="287.50" y1="236.10" x2="318.00" y2="236.10" stroke="#ff0000" stroke-width="1.6"/>
<polygon points="323.20,236.10 315.60,232.60 317.40,236.10 315.60,239.60" fill="#ff0000"/>
<text x="0" y="0" font-family="'Liberation Sans', sans-serif" font-size="12.8" font-weight="bold" text-anchor="start" fill="#000" transform="translate(332.80 240.60) scale(1 1.0)">a</text>
<line x1="287.50" y1="252.00" x2="318.00" y2="252.00" stroke="#00ee00" stroke-width="1.6"/>
<polygon points="323.20,252.00 315.60,248.50 317.40,252.00 315.60,255.50" fill="#00ee00"/>
<text x="0" y="0" font-family="'Liberation Sans', sans-serif" font-size="12.8" font-weight="bold" text-anchor="start" fill="#000" transform="translate(332.80 256.50) scale(1 1.0)">b</text>
<line x1="287.50" y1="266.40" x2="318.00" y2="266.40" stroke="#0000ff" stroke-width="1.6"/>
<polygon points="323.20,266.40 315.60,262.90 317.40,266.40 315.60,269.90" fill="#0000ff"/>
<text x="0" y="0" font-family="'Liberation Sans', sans-serif" font-size="12.8" font-weight="bold" text-anchor="start" fill="#000" transform="translate(332.80 270.90) scale(1 1.0)">c</text>
<text x="0" y="0" font-family="'Liberation Serif', serif" font-size="11.6" font-weight="bold" text-anchor="start" fill="#000" transform="translate(261.00 256.60) scale(1 1.06)">Axis</text>
<text x="0" y="0" font-family="'Liberation Serif', serif" font-size="11" font-weight="bold" text-anchor="start" fill="#000" transform="translate(45.20 16.00) scale(1 1.06)">(a)</text>
<line x1="40.80" y1="47.50" x2="40.80" y2="34.50" stroke="#d40000" stroke-width="1.8"/>
<polygon points="40.80,28.00 43.60,35.00 40.80,34.20 38.00,35.00" fill="#d40000"/>
<line x1="40.80" y1="47.50" x2="56.70" y2="47.50" stroke="#0000f0" stroke-width="1.8"/>
<polygon points="63.20,47.50 56.20,50.30 57.00,47.50 56.20,44.70" fill="#0000f0"/>
<circle cx="40.8" cy="47.5" r="1.7999999999999998" fill="#3a5a3a" stroke="#109a10" stroke-width="1.1"/>
<circle cx="41.2" cy="23.8" r="0.8" fill="#222"/>
<circle cx="68.2" cy="47.5" r="0.8" fill="#222"/>
<path d="M157.8 29.5 H77.2 V47.7 H157.8" fill="none" stroke="#777" stroke-width="1.1"/>
<line x1="103.40" y1="11.70" x2="106.60" y2="14.60" stroke="#8cd820" stroke-width="1.1"/>
<line x1="106.60" y1="14.60" x2="109.80" y2="17.50" stroke="#c474b8" stroke-width="1.1"/>
<line x1="109.80" y1="17.50" x2="116.30" y2="17.50" stroke="#c474b8" stroke-width="1.1"/>
<line x1="116.30" y1="17.50" x2="122.80" y2="17.50" stroke="#8cd820" stroke-width="1.1"/>
<line x1="122.80" y1="17.50" x2="127.00" y2="20.50" stroke="#8cd820" stroke-width="1.1"/>
<line x1="127.00" y1="20.50" x2="131.20" y2="23.50" stroke="#c474b8" stroke-width="1.1"/>
<line x1="131.20" y1="23.50" x2="134.65" y2="17.60" stroke="#c474b8" stroke-width="1.1"/>
<line x1="134.65" y1="17.60" x2="138.10" y2="11.70" stroke="#8cd820" stroke-width="1.1"/>
<line x1="109.80" y1="17.50" x2="106.60" y2="23.50" stroke="#c474b8" stroke-width="1.1"/>
<line x1="106.60" y1="23.50" x2="103.40" y2="29.50" stroke="#8cd820" stroke-width="1.1"/>
<line x1="131.20" y1="23.50" x2="134.65" y2="26.50" stroke="#c474b8" stroke-width="1.1"/>
<line x1="134.65" y1="26.50" x2="138.10" y2="29.50" stroke="#8cd820" stroke-width="1.1"/>
<line x1="131.20" y1="23.50" x2="127.00" y2="29.60" stroke="#c474b8" stroke-width="1.1"/>
<line x1="127.00" y1="29.60" x2="122.80" y2="35.70" stroke="#8cd820" stroke-width="1.1"/>
<line x1="103.40" y1="29.50" x2="106.60" y2="32.50" stroke="#8cd820" stroke-width="1.1"/>
<line x1="106.60" y1="32.50" x2="109.80" y2="35.50" stroke="#c474b8" stroke-width="1.1"/>
<line x1="109.80" y1="35.50" x2="116.30" y2="35.60" stroke="#c474b8" stroke-width="1.1"/>
<line x1="116.30" y1="35.60" x2="122.80" y2="35.70" stroke="#8cd820" stroke-width="1.1"/>
<line x1="122.80" y1="35.70" x2="127.00" y2="38.60" stroke="#8cd820" stroke-width="1.1"/>
<line x1="127.00" y1="38.60" x2="131.20" y2="41.50" stroke="#c474b8" stroke-width="1.1"/>
<line x1="138.10" y1="29.50" x2="134.65" y2="35.50" stroke="#8cd820" stroke-width="1.1"/>
<line x1="134.65" y1="35.50" x2="131.20" y2="41.50" stroke="#c474b8" stroke-width="1.1"/>
<line x1="109.80" y1="35.50" x2="106.60" y2="41.60" stroke="#c474b8" stroke-width="1.1"/>
<line x1="106.60" y1="41.60" x2="103.40" y2="47.70" stroke="#8cd820" stroke-width="1.1"/>
<line x1="131.20" y1="41.50" x2="134.65" y2="44.60" stroke="#c474b8" stroke-width="1.1"/>
<line x1="134.65" y1="44.60" x2="138.10" y2="47.70" stroke="#8cd820" stroke-width="1.1"/>
<line x1="131.20" y1="41.50" x2="127.00" y2="47.60" stroke="#c474b8" stroke-width="1.1"/>
<line x1="127.00" y1="47.60" x2="122.80" y2="53.70" stroke="#8cd820" stroke-width="1.1"/>
<line x1="154.00" y1="5.70" x2="153.35" y2="11.60" stroke="#8cd820" stroke-width="1.1"/>
<line x1="153.35" y1="11.60" x2="152.70" y2="17.50" stroke="#808078" stroke-width="1.1"/>
<line x1="152.70" y1="17.50" x2="153.55" y2="20.50" stroke="#808078" stroke-width="1.1"/>
<line x1="153.55" y1="20.50" x2="154.40" y2="23.50" stroke="#8cd820" stroke-width="1.1"/>
<line x1="154.40" y1="23.50" x2="153.55" y2="29.50" stroke="#8cd820" stroke-width="1.1"/>
<line x1="153.55" y1="29.50" x2="152.70" y2="35.50" stroke="#808078" stroke-width="1.1"/>
<line x1="152.70" y1="35.50" x2="153.55" y2="38.50" stroke="#808078" stroke-width="1.1"/>
<line x1="153.55" y1="38.50" x2="154.40" y2="41.50" stroke="#8cd820" stroke-width="1.1"/>
<circle cx="103.40" cy="11.70" r="1.77" fill="url(#gSe)" stroke="#5c9400" stroke-width="0.45"/>
<circle cx="109.80" cy="17.50" r="2.93" fill="url(#gIn)" stroke="#8a4482" stroke-width="0.55"/>
<circle cx="122.80" cy="17.50" r="1.77" fill="url(#gSe)" stroke="#5c9400" stroke-width="0.45"/>
<circle cx="138.10" cy="11.70" r="1.77" fill="url(#gSe)" stroke="#5c9400" stroke-width="0.45"/>
<circle cx="131.20" cy="23.50" r="2.93" fill="url(#gIn)" stroke="#8a4482" stroke-width="0.55"/>
<circle cx="103.40" cy="29.50" r="1.77" fill="url(#gSe)" stroke="#5c9400" stroke-width="0.45"/>
<circle cx="138.10" cy="29.50" r="1.77" fill="url(#gSe)" stroke="#5c9400" stroke-width="0.45"/>
<circle cx="109.80" cy="35.50" r="2.93" fill="url(#gIn)" stroke="#8a4482" stroke-width="0.55"/>
<circle cx="122.80" cy="35.70" r="1.77" fill="url(#gSe)" stroke="#5c9400" stroke-width="0.45"/>
<circle cx="131.20" cy="41.50" r="2.93" fill="url(#gIn)" stroke="#8a4482" stroke-width="0.55"/>
<circle cx="103.40" cy="47.70" r="1.77" fill="url(#gSe)" stroke="#5c9400" stroke-width="0.45"/>
<circle cx="138.10" cy="47.70" r="1.77" fill="url(#gSe)" stroke="#5c9400" stroke-width="0.45"/>
<circle cx="122.80" cy="53.70" r="1.77" fill="url(#gSe)" stroke="#5c9400" stroke-width="0.45"/>
<circle cx="154.00" cy="5.70" r="1.77" fill="url(#gSe)" stroke="#5c9400" stroke-width="0.45"/>
<circle cx="152.70" cy="17.50" r="2.12" fill="url(#gZn)" stroke="#4a4a46" stroke-width="0.75"/>
<circle cx="154.40" cy="23.50" r="1.77" fill="url(#gSe)" stroke="#5c9400" stroke-width="0.45"/>
<circle cx="152.70" cy="35.50" r="2.12" fill="url(#gZn)" stroke="#4a4a46" stroke-width="0.75"/>
<circle cx="154.40" cy="41.50" r="1.77" fill="url(#gSe)" stroke="#5c9400" stroke-width="0.45"/>
<line x1="46.40" y1="101.50" x2="62.20" y2="101.50" stroke="#ee0000" stroke-width="1.8"/>
<polygon points="68.70,101.50 61.70,104.30 62.50,101.50 61.70,98.70" fill="#ee0000"/>
<line x1="46.40" y1="101.50" x2="38.52" y2="87.65" stroke="#00dd00" stroke-width="1.8"/>
<polygon points="35.30,82.00 41.20,86.70 38.37,87.39 36.33,89.47" fill="#00dd00"/>
<circle cx="46.4" cy="101.5" r="2.05" fill="#2a2a55" stroke="#0000b8" stroke-width="1.1"/>
<circle cx="32.7" cy="77.9" r="0.8" fill="#222"/>
<circle cx="74.4" cy="101.5" r="0.8" fill="#222"/>
<line x1="96.35" y1="77.90" x2="101.58" y2="80.90" stroke="#c474b8" stroke-width="1.0"/>
<line x1="101.58" y1="80.90" x2="106.80" y2="83.90" stroke="#c474b8" stroke-width="1.0"/>
<line x1="96.35" y1="77.90" x2="101.58" y2="74.90" stroke="#c474b8" stroke-width="1.0"/>
<line x1="101.58" y1="74.90" x2="106.80" y2="71.90" stroke="#8cd820" stroke-width="1.0"/>
<line x1="96.35" y1="77.90" x2="91.12" y2="80.90" stroke="#c474b8" stroke-width="1.0"/>
<line x1="91.12" y1="80.90" x2="85.90" y2="83.90" stroke="#8cd820" stroke-width="1.0"/>
<line x1="96.35" y1="77.90" x2="91.12" y2="74.90" stroke="#c474b8" stroke-width="1.0"/>
<line x1="91.12" y1="74.90" x2="85.90" y2="71.90" stroke="#8cd820" stroke-width="1.0"/>
<line x1="96.35" y1="77.90" x2="96.35" y2="83.90" stroke="#c474b8" stroke-width="1.0"/>
<line x1="96.35" y1="83.90" x2="96.35" y2="89.90" stroke="#8cd820" stroke-width="1.0"/>
<line x1="96.35" y1="77.90" x2="96.35" y2="71.90" stroke="#c474b8" stroke-width="1.0"/>
<line x1="96.35" y1="71.90" x2="96.35" y2="65.90" stroke="#8cd820" stroke-width="1.0"/>
<line x1="117.25" y1="77.90" x2="122.47" y2="80.90" stroke="#c474b8" stroke-width="1.0"/>
<line x1="122.47" y1="80.90" x2="127.70" y2="83.90" stroke="#c474b8" stroke-width="1.0"/>
<line x1="117.25" y1="77.90" x2="122.47" y2="74.90" stroke="#c474b8" stroke-width="1.0"/>
<line x1="122.47" y1="74.90" x2="127.70" y2="71.90" stroke="#8cd820" stroke-width="1.0"/>
<line x1="117.25" y1="77.90" x2="112.03" y2="80.90" stroke="#c474b8" stroke-width="1.0"/>
<line x1="112.03" y1="80.90" x2="106.80" y2="83.90" stroke="#c474b8" stroke-width="1.0"/>
<line x1="117.25" y1="77.90" x2="112.03" y2="74.90" stroke="#c474b8" stroke-width="1.0"/>
<line x1="112.03" y1="74.90" x2="106.80" y2="71.90" stroke="#8cd820" stroke-width="1.0"/>
<line x1="117.25" y1="77.90" x2="117.25" y2="83.90" stroke="#c474b8" stroke-width="1.0"/>
<line x1="117.25" y1="83.90" x2="117.25" y2="89.90" stroke="#8cd820" stroke-width="1.0"/>
<line x1="117.25" y1="77.90" x2="117.25" y2="71.90" stroke="#c474b8" stroke-width="1.0"/>
<line x1="117.25" y1="71.90" x2="117.25" y2="65.90" stroke="#8cd820" stroke-width="1.0"/>
<line x1="106.80" y1="83.90" x2="112.03" y2="86.90" stroke="#c474b8" stroke-width="1.0"/>
<line x1="112.03" y1="86.90" x2="117.25" y2="89.90" stroke="#8cd820" stroke-width="1.0"/>
<line x1="106.80" y1="83.90" x2="101.58" y2="86.90" stroke="#c474b8" stroke-width="1.0"/>
<line x1="101.58" y1="86.90" x2="96.35" y2="89.90" stroke="#8cd820" stroke-width="1.0"/>
<line x1="106.80" y1="83.90" x2="106.80" y2="89.90" stroke="#c474b8" stroke-width="1.0"/>
<line x1="106.80" y1="89.90" x2="106.80" y2="95.90" stroke="#c474b8" stroke-width="1.0"/>
<line x1="106.80" y1="83.90" x2="106.80" y2="77.90" stroke="#c474b8" stroke-width="1.0"/>
<line x1="106.80" y1="77.90" x2="106.80" y2="71.90" stroke="#8cd820" stroke-width="1.0"/>
<line x1="127.70" y1="83.90" x2="132.93" y2="86.90" stroke="#c474b8" stroke-width="1.0"/>
<line x1="132.93" y1="86.90" x2="138.15" y2="89.90" stroke="#8cd820" stroke-width="1.0"/>
<line x1="127.70" y1="83.90" x2="132.93" y2="80.90" stroke="#c474b8" stroke-width="1.0"/>
<line x1="132.93" y1="80.90" x2="138.15" y2="77.90" stroke="#8cd820" stroke-width="1.0"/>
<line x1="127.70" y1="83.90" x2="122.47" y2="86.90" stroke="#c474b8" stroke-width="1.0"/>
<line x1="122.47" y1="86.90" x2="117.25" y2="89.90" stroke="#8cd820" stroke-width="1.0"/>
<line x1="127.70" y1="83.90" x2="127.70" y2="89.90" stroke="#c474b8" stroke-width="1.0"/>
<line x1="127.70" y1="89.90" x2="127.70" y2="95.90" stroke="#c474b8" stroke-width="1.0"/>
<line x1="127.70" y1="83.90" x2="127.70" y2="77.90" stroke="#c474b8" stroke-width="1.0"/>
<line x1="127.70" y1="77.90" x2="127.70" y2="71.90" stroke="#8cd820" stroke-width="1.0"/>
<line x1="106.80" y1="95.90" x2="112.03" y2="98.90" stroke="#c474b8" stroke-width="1.0"/>
<line x1="112.03" y1="98.90" x2="117.25" y2="101.90" stroke="#c474b8" stroke-width="1.0"/>
<line x1="106.80" y1="95.90" x2="112.03" y2="92.90" stroke="#c474b8" stroke-width="1.0"/>
<line x1="112.03" y1="92.90" x2="117.25" y2="89.90" stroke="#8cd820" stroke-width="1.0"/>
<line x1="106.80" y1="95.90" x2="101.58" y2="98.90" stroke="#c474b8" stroke-width="1.0"/>
<line x1="101.58" y1="98.90" x2="96.35" y2="101.90" stroke="#8cd820" stroke-width="1.0"/>
<line x1="106.80" y1="95.90" x2="101.58" y2="92.90" stroke="#c474b8" stroke-width="1.0"/>
<line x1="101.58" y1="92.90" x2="96.35" y2="89.90" stroke="#8cd820" stroke-width="1.0"/>
<line x1="106.80" y1="95.90" x2="106.80" y2="101.90" stroke="#c474b8" stroke-width="1.0"/>
<line x1="106.80" y1="101.90" x2="106.80" y2="107.90" stroke="#8cd820" stroke-width="1.0"/>
<line x1="127.70" y1="95.90" x2="132.93" y2="98.90" stroke="#c474b8" stroke-width="1.0"/>
<line x1="132.93" y1="98.90" x2="138.15" y2="101.90" stroke="#c474b8" stroke-width="1.0"/>
<line x1="127.70" y1="95.90" x2="132.93" y2="92.90" stroke="#c474b8" stroke-width="1.0"/>
<line x1="132.93" y1="92.90" x2="138.15" y2="89.90" stroke="#8cd820" stroke-width="1.0"/>
<line x1="127.70" y1="95.90" x2="122.47" y2="98.90" stroke="#c474b8" stroke-width="1.0"/>
<line x1="122.47" y1="98.90" x2="117.25" y2="101.90" stroke="#c474b8" stroke-width="1.0"/>
<line x1="127.70" y1="95.90" x2="122.47" y2="92.90" stroke="#c474b8" stroke-width="1.0"/>
<line x1="122.47" y1="92.90" x2="117.25" y2="89.90" stroke="#8cd820" stroke-width="1.0"/>
<line x1="127.70" y1="95.90" x2="127.70" y2="101.90" stroke="#c474b8" stroke-width="1.0"/>
<line x1="127.70" y1="101.90" x2="127.70" y2="107.90" stroke="#8cd820" stroke-width="1.0"/>
<line x1="117.25" y1="101.90" x2="122.47" y2="104.90" stroke="#c474b8" stroke-width="1.0"/>
<line x1="122.47" y1="104.90" x2="127.70" y2="107.90" stroke="#8cd820" stroke-width="1.0"/>
<line x1="117.25" y1="101.90" x2="112.03" y2="104.90" stroke="#c474b8" stroke-width="1.0"/>
<line x1="112.03" y1="104.90" x2="106.80" y2="107.90" stroke="#8cd820" stroke-width="1.0"/>
<line x1="117.25" y1="101.90" x2="117.25" y2="107.90" stroke="#c474b8" stroke-width="1.0"/>
<line x1="117.25" y1="107.90" x2="117.25" y2="113.90" stroke="#8cd820" stroke-width="1.0"/>
<line x1="117.25" y1="101.90" x2="117.25" y2="95.90" stroke="#c474b8" stroke-width="1.0"/>
<line x1="117.25" y1="95.90" x2="117.25" y2="89.90" stroke="#8cd820" stroke-width="1.0"/>
<line x1="138.15" y1="101.90" x2="143.38" y2="104.90" stroke="#c474b8" stroke-width="1.0"/>
<line x1="143.38" y1="104.90" x2="148.60" y2="107.90" stroke="#8cd820" stroke-width="1.0"/>
<line x1="138.15" y1="101.90" x2="143.38" y2="98.90" stroke="#c474b8" stroke-width="1.0"/>
<line x1="143.38" y1="98.90" x2="148.60" y2="95.90" stroke="#8cd820" stroke-width="1.0"/>
<line x1="138.15" y1="101.90" x2="132.93" y2="104.90" stroke="#c474b8" stroke-width="1.0"/>
<line x1="132.93" y1="104.90" x2="127.70" y2="107.90" stroke="#8cd820" stroke-width="1.0"/>
<line x1="138.15" y1="101.90" x2="138.15" y2="107.90" stroke="#c474b8" stroke-width="1.0"/>
<line x1="138.15" y1="107.90" x2="138.15" y2="113.90" stroke="#8cd820" stroke-width="1.0"/>
<line x1="138.15" y1="101.90" x2="138.15" y2="95.90" stroke="#c474b8" stroke-width="1.0"/>
<line x1="138.15" y1="95.90" x2="138.15" y2="89.90" stroke="#8cd820" stroke-width="1.0"/>
<polygon points="96.35,89.90 117.25,89.90 127.70,107.90 106.80,107.90" fill="none" stroke="#333" stroke-width="0.9"/>
<circle cx="96.35" cy="65.90" r="1.88" fill="url(#gSe)" stroke="#5c9400" stroke-width="0.45"/>
<circle cx="117.25" cy="65.90" r="1.88" fill="url(#gSe)" stroke="#5c9400" stroke-width="0.45"/>
<circle cx="85.90" cy="71.90" r="1.88" fill="url(#gSe)" stroke="#5c9400" stroke-width="0.45"/>
<circle cx="106.80" cy="71.90" r="1.88" fill="url(#gSe)" stroke="#5c9400" stroke-width="0.45"/>
<circle cx="127.70" cy="71.90" r="1.88" fill="url(#gSe)" stroke="#5c9400" stroke-width="0.45"/>
<circle cx="96.35" cy="77.90" r="3.02" fill="url(#gIn)" stroke="#8a4482" stroke-width="0.55"/>
<circle cx="96.35" cy="77.90" r="1.98" fill="url(#gSe)" stroke="#5c9400" stroke-width="0.45"/>
<circle cx="117.25" cy="77.90" r="3.02" fill="url(#gIn)" stroke="#8a4482" stroke-width="0.55"/>
<circle cx="117.25" cy="77.90" r="1.98" fill="url(#gSe)" stroke="#5c9400" stroke-width="0.45"/>
<circle cx="138.15" cy="77.90" r="1.88" fill="url(#gSe)" stroke="#5c9400" stroke-width="0.45"/>
<circle cx="85.90" cy="83.90" r="1.88" fill="url(#gSe)" stroke="#5c9400" stroke-width="0.45"/>
<circle cx="106.80" cy="83.90" r="2.42" fill="url(#gZn)" stroke="#4a4a46" stroke-width="0.75"/>
<circle cx="127.70" cy="83.90" r="2.42" fill="url(#gZn)" stroke="#4a4a46" stroke-width="0.75"/>
<circle cx="96.35" cy="89.90" r="1.88" fill="url(#gSe)" stroke="#5c9400" stroke-width="0.45"/>
<circle cx="117.25" cy="89.90" r="1.88" fill="url(#gSe)" stroke="#5c9400" stroke-width="0.45"/>
<circle cx="138.15" cy="89.90" r="1.88" fill="url(#gSe)" stroke="#5c9400" stroke-width="0.45"/>
<circle cx="106.80" cy="95.90" r="3.02" fill="url(#gIn)" stroke="#8a4482" stroke-width="0.55"/>
<circle cx="106.80" cy="95.90" r="1.98" fill="url(#gSe)" stroke="#5c9400" stroke-width="0.45"/>
<circle cx="127.70" cy="95.90" r="3.02" fill="url(#gIn)" stroke="#8a4482" stroke-width="0.55"/>
<circle cx="127.70" cy="95.90" r="1.98" fill="url(#gSe)" stroke="#5c9400" stroke-width="0.45"/>
<circle cx="148.60" cy="95.90" r="1.88" fill="url(#gSe)" stroke="#5c9400" stroke-width="0.45"/>
<circle cx="96.35" cy="101.90" r="1.88" fill="url(#gSe)" stroke="#5c9400" stroke-width="0.45"/>
<circle cx="117.25" cy="101.90" r="2.42" fill="url(#gZn)" stroke="#4a4a46" stroke-width="0.75"/>
<circle cx="138.15" cy="101.90" r="2.42" fill="url(#gZn)" stroke="#4a4a46" stroke-width="0.75"/>
<circle cx="106.80" cy="107.90" r="1.88" fill="url(#gSe)" stroke="#5c9400" stroke-width="0.45"/>
<circle cx="127.70" cy="107.90" r="1.88" fill="url(#gSe)" stroke="#5c9400" stroke-width="0.45"/>
<circle cx="148.60" cy="107.90" r="1.88" fill="url(#gSe)" stroke="#5c9400" stroke-width="0.45"/>
<circle cx="117.25" cy="113.90" r="1.88" fill="url(#gSe)" stroke="#5c9400" stroke-width="0.45"/>
<circle cx="138.15" cy="113.90" r="1.88" fill="url(#gSe)" stroke="#5c9400" stroke-width="0.45"/>
<text x="0" y="0" font-family="'Liberation Serif', serif" font-size="10.6" font-weight="bold" text-anchor="start" fill="#000" transform="translate(73.90 141.70) scale(1 1.06)">stacking I with P</text>
<line x1="152.47" y1="140.60" x2="152.47" y2="143.70" stroke="#111" stroke-width="1.05"/>
<polygon points="152.47,145.20 151.02,142.80 153.92,142.80" fill="#111"/>
<text x="0" y="0" font-family="'Liberation Serif', serif" font-size="11" font-weight="bold" text-anchor="start" fill="#000" transform="translate(431.80 16.20) scale(1 1.06)">(c)</text>
<line x1="429.10" y1="46.90" x2="429.10" y2="33.80" stroke="#d40000" stroke-width="1.8"/>
<polygon points="429.10,27.30 431.90,34.30 429.10,33.50 426.30,34.30" fill="#d40000"/>
<line x1="429.10" y1="46.90" x2="445.10" y2="46.90" stroke="#0000f0" stroke-width="1.8"/>
<polygon points="451.60,46.90 444.60,49.70 445.40,46.90 444.60,44.10" fill="#0000f0"/>
<circle cx="429.1" cy="46.9" r="1.7999999999999998" fill="#3a5a3a" stroke="#109a10" stroke-width="1.1"/>
<circle cx="429.4" cy="23.2" r="0.8" fill="#222"/>
<circle cx="457.0" cy="46.9" r="0.8" fill="#222"/>
<path d="M548.2 28.3 H466.8 V46.1 H548.2" fill="none" stroke="#777" stroke-width="1.1"/>
<line x1="492.90" y1="10.00" x2="496.25" y2="12.95" stroke="#8cd820" stroke-width="1.1"/>
<line x1="496.25" y1="12.95" x2="499.60" y2="15.90" stroke="#c474b8" stroke-width="1.1"/>
<line x1="499.60" y1="15.90" x2="506.20" y2="15.90" stroke="#c474b8" stroke-width="1.1"/>
<line x1="506.20" y1="15.90" x2="512.80" y2="15.90" stroke="#8cd820" stroke-width="1.1"/>
<line x1="512.80" y1="15.90" x2="516.90" y2="18.95" stroke="#8cd820" stroke-width="1.1"/>
<line x1="516.90" y1="18.95" x2="521.00" y2="22.00" stroke="#c474b8" stroke-width="1.1"/>
<line x1="521.00" y1="22.00" x2="524.35" y2="16.00" stroke="#c474b8" stroke-width="1.1"/>
<line x1="524.35" y1="16.00" x2="527.70" y2="10.00" stroke="#8cd820" stroke-width="1.1"/>
<line x1="527.70" y1="10.00" x2="534.60" y2="10.00" stroke="#8cd820" stroke-width="1.1"/>
<line x1="534.60" y1="10.00" x2="541.50" y2="10.00" stroke="#808078" stroke-width="1.1"/>
<line x1="541.50" y1="10.00" x2="543.15" y2="7.15" stroke="#808078" stroke-width="1.1"/>
<line x1="543.15" y1="7.15" x2="544.80" y2="4.30" stroke="#8cd820" stroke-width="1.1"/>
<line x1="541.50" y1="10.00" x2="543.15" y2="16.10" stroke="#808078" stroke-width="1.1"/>
<line x1="543.15" y1="16.10" x2="544.80" y2="22.20" stroke="#8cd820" stroke-width="1.1"/>
<line x1="544.80" y1="22.20" x2="543.15" y2="25.25" stroke="#8cd820" stroke-width="1.1"/>
<line x1="543.15" y1="25.25" x2="541.50" y2="28.30" stroke="#808078" stroke-width="1.1"/>
<line x1="541.50" y1="28.30" x2="534.60" y2="28.30" stroke="#808078" stroke-width="1.1"/>
<line x1="534.60" y1="28.30" x2="527.70" y2="28.30" stroke="#8cd820" stroke-width="1.1"/>
<line x1="541.50" y1="28.30" x2="543.15" y2="34.15" stroke="#808078" stroke-width="1.1"/>
<line x1="543.15" y1="34.15" x2="544.80" y2="40.00" stroke="#8cd820" stroke-width="1.1"/>
<line x1="499.60" y1="15.90" x2="496.25" y2="22.10" stroke="#c474b8" stroke-width="1.1"/>
<line x1="496.25" y1="22.10" x2="492.90" y2="28.30" stroke="#8cd820" stroke-width="1.1"/>
<line x1="521.00" y1="22.00" x2="524.35" y2="25.15" stroke="#c474b8" stroke-width="1.1"/>
<line x1="524.35" y1="25.15" x2="527.70" y2="28.30" stroke="#8cd820" stroke-width="1.1"/>
<line x1="521.00" y1="22.00" x2="516.90" y2="28.05" stroke="#c474b8" stroke-width="1.1"/>
<line x1="516.90" y1="28.05" x2="512.80" y2="34.10" stroke="#8cd820" stroke-width="1.1"/>
<line x1="492.90" y1="28.30" x2="496.25" y2="31.20" stroke="#8cd820" stroke-width="1.1"/>
<line x1="496.25" y1="31.20" x2="499.60" y2="34.10" stroke="#c474b8" stroke-width="1.1"/>
<line x1="499.60" y1="34.10" x2="506.20" y2="34.10" stroke="#c474b8" stroke-width="1.1"/>
<line x1="506.20" y1="34.10" x2="512.80" y2="34.10" stroke="#8cd820" stroke-width="1.1"/>
<line x1="512.80" y1="34.10" x2="516.90" y2="37.05" stroke="#8cd820" stroke-width="1.1"/>
<line x1="516.90" y1="37.05" x2="521.00" y2="40.00" stroke="#c474b8" stroke-width="1.1"/>
<line x1="527.70" y1="28.30" x2="524.35" y2="34.15" stroke="#8cd820" stroke-width="1.1"/>
<line x1="524.35" y1="34.15" x2="521.00" y2="40.00" stroke="#c474b8" stroke-width="1.1"/>
<line x1="499.60" y1="34.10" x2="496.25" y2="40.10" stroke="#c474b8" stroke-width="1.1"/>
<line x1="496.25" y1="40.10" x2="492.90" y2="46.10" stroke="#8cd820" stroke-width="1.1"/>
<line x1="521.00" y1="40.00" x2="524.35" y2="43.05" stroke="#c474b8" stroke-width="1.1"/>
<line x1="524.35" y1="43.05" x2="527.70" y2="46.10" stroke="#8cd820" stroke-width="1.1"/>
<line x1="521.00" y1="40.00" x2="516.90" y2="46.20" stroke="#c474b8" stroke-width="1.1"/>
<line x1="516.90" y1="46.20" x2="512.80" y2="52.40" stroke="#8cd820" stroke-width="1.1"/>
<circle cx="492.90" cy="10.00" r="1.77" fill="url(#gSe)" stroke="#5c9400" stroke-width="0.45"/>
<circle cx="499.60" cy="15.90" r="2.93" fill="url(#gIn)" stroke="#8a4482" stroke-width="0.55"/>
<circle cx="512.80" cy="15.90" r="1.77" fill="url(#gSe)" stroke="#5c9400" stroke-width="0.45"/>
<circle cx="527.70" cy="10.00" r="1.77" fill="url(#gSe)" stroke="#5c9400" stroke-width="0.45"/>
<circle cx="521.00" cy="22.00" r="2.93" fill="url(#gIn)" stroke="#8a4482" stroke-width="0.55"/>
<circle cx="541.50" cy="10.00" r="2.12" fill="url(#gZn)" stroke="#4a4a46" stroke-width="0.75"/>
<circle cx="544.80" cy="4.30" r="1.77" fill="url(#gSe)" stroke="#5c9400" stroke-width="0.45"/>
<circle cx="544.80" cy="22.20" r="1.77" fill="url(#gSe)" stroke="#5c9400" stroke-width="0.45"/>
<circle cx="492.90" cy="28.30" r="1.77" fill="url(#gSe)" stroke="#5c9400" stroke-width="0.45"/>
<circle cx="527.70" cy="28.30" r="1.77" fill="url(#gSe)" stroke="#5c9400" stroke-width="0.45"/>
<circle cx="541.50" cy="28.30" r="2.12" fill="url(#gZn)" stroke="#4a4a46" stroke-width="0.75"/>
<circle cx="499.60" cy="34.10" r="2.93" fill="url(#gIn)" stroke="#8a4482" stroke-width="0.55"/>
<circle cx="512.80" cy="34.10" r="1.77" fill="url(#gSe)" stroke="#5c9400" stroke-width="0.45"/>
<circle cx="521.00" cy="40.00" r="2.93" fill="url(#gIn)" stroke="#8a4482" stroke-width="0.55"/>
<circle cx="544.80" cy="40.00" r="1.77" fill="url(#gSe)" stroke="#5c9400" stroke-width="0.45"/>
<circle cx="492.90" cy="46.10" r="1.77" fill="url(#gSe)" stroke="#5c9400" stroke-width="0.45"/>
<circle cx="527.70" cy="46.10" r="1.77" fill="url(#gSe)" stroke="#5c9400" stroke-width="0.45"/>
<circle cx="512.80" cy="52.40" r="1.77" fill="url(#gSe)" stroke="#5c9400" stroke-width="0.45"/>
<line x1="440.60" y1="101.00" x2="456.70" y2="101.00" stroke="#ee0000" stroke-width="1.8"/>
<polygon points="463.20,101.00 456.20,103.80 457.00,101.00 456.20,98.20" fill="#ee0000"/>
<line x1="440.60" y1="101.00" x2="432.56" y2="87.12" stroke="#00dd00" stroke-width="1.8"/>
<polygon points="429.30,81.50 435.23,86.15 432.41,86.86 430.39,88.96" fill="#00dd00"/>
<circle cx="440.6" cy="101.0" r="1.95" fill="#2a2a55" stroke="#0000b8" stroke-width="1.1"/>
<circle cx="426.7" cy="77.1" r="0.8" fill="#222"/>
<circle cx="468.4" cy="101.0" r="0.8" fill="#222"/>
<line x1="485.86" y1="77.22" x2="496.22" y2="83.23" stroke="#8cd820" stroke-width="1.0"/>
<line x1="485.86" y1="77.22" x2="488.97" y2="79.02" stroke="#c474b8" stroke-width="1.0"/>
<line x1="496.22" y1="83.23" x2="493.11" y2="81.43" stroke="#c474b8" stroke-width="1.0"/>
<line x1="485.86" y1="77.22" x2="491.04" y2="74.22" stroke="#c474b8" stroke-width="1.0"/>
<line x1="491.04" y1="74.22" x2="496.22" y2="71.21" stroke="#8cd820" stroke-width="1.0"/>
<line x1="485.86" y1="77.22" x2="480.68" y2="80.22" stroke="#c474b8" stroke-width="1.0"/>
<line x1="480.68" y1="80.22" x2="475.50" y2="83.23" stroke="#8cd820" stroke-width="1.0"/>
<line x1="485.86" y1="77.22" x2="480.68" y2="74.22" stroke="#c474b8" stroke-width="1.0"/>
<line x1="480.68" y1="74.22" x2="475.50" y2="71.21" stroke="#8cd820" stroke-width="1.0"/>
<line x1="485.86" y1="77.22" x2="485.86" y2="83.23" stroke="#c474b8" stroke-width="1.0"/>
<line x1="485.86" y1="83.23" x2="485.86" y2="89.24" stroke="#8cd820" stroke-width="1.0"/>
<line x1="485.86" y1="77.22" x2="485.86" y2="71.21" stroke="#c474b8" stroke-width="1.0"/>
<line x1="485.86" y1="71.21" x2="485.86" y2="65.20" stroke="#8cd820" stroke-width="1.0"/>
<line x1="506.58" y1="77.22" x2="516.94" y2="83.23" stroke="#8cd820" stroke-width="1.0"/>
<line x1="506.58" y1="77.22" x2="509.69" y2="79.02" stroke="#c474b8" stroke-width="1.0"/>
<line x1="516.94" y1="83.23" x2="513.83" y2="81.43" stroke="#c474b8" stroke-width="1.0"/>
<line x1="506.58" y1="77.22" x2="511.76" y2="74.22" stroke="#c474b8" stroke-width="1.0"/>
<line x1="511.76" y1="74.22" x2="516.94" y2="71.21" stroke="#8cd820" stroke-width="1.0"/>
<line x1="506.58" y1="77.22" x2="496.22" y2="83.23" stroke="#8cd820" stroke-width="1.0"/>
<line x1="506.58" y1="77.22" x2="503.47" y2="79.02" stroke="#c474b8" stroke-width="1.0"/>
<line x1="496.22" y1="83.23" x2="499.33" y2="81.43" stroke="#c474b8" stroke-width="1.0"/>
<line x1="506.58" y1="77.22" x2="501.40" y2="74.22" stroke="#c474b8" stroke-width="1.0"/>
<line x1="501.40" y1="74.22" x2="496.22" y2="71.21" stroke="#8cd820" stroke-width="1.0"/>
<line x1="506.58" y1="77.22" x2="506.58" y2="83.23" stroke="#c474b8" stroke-width="1.0"/>
<line x1="506.58" y1="83.23" x2="506.58" y2="89.24" stroke="#808078" stroke-width="1.0"/>
<line x1="506.58" y1="77.22" x2="506.58" y2="71.21" stroke="#c474b8" stroke-width="1.0"/>
<line x1="506.58" y1="71.21" x2="506.58" y2="65.20" stroke="#8cd820" stroke-width="1.0"/>
<line x1="496.22" y1="83.23" x2="501.40" y2="86.24" stroke="#c474b8" stroke-width="1.0"/>
<line x1="501.40" y1="86.24" x2="506.58" y2="89.24" stroke="#808078" stroke-width="1.0"/>
<line x1="496.22" y1="83.23" x2="491.04" y2="86.24" stroke="#c474b8" stroke-width="1.0"/>
<line x1="491.04" y1="86.24" x2="485.86" y2="89.24" stroke="#8cd820" stroke-width="1.0"/>
<line x1="496.22" y1="83.23" x2="496.22" y2="95.25" stroke="#8cd820" stroke-width="1.0"/>
<line x1="496.22" y1="83.23" x2="496.22" y2="86.84" stroke="#c474b8" stroke-width="1.0"/>
<line x1="496.22" y1="95.25" x2="496.22" y2="91.64" stroke="#c474b8" stroke-width="1.0"/>
<line x1="496.22" y1="83.23" x2="496.22" y2="77.22" stroke="#c474b8" stroke-width="1.0"/>
<line x1="496.22" y1="77.22" x2="496.22" y2="71.21" stroke="#8cd820" stroke-width="1.0"/>
<line x1="516.94" y1="83.23" x2="522.12" y2="86.24" stroke="#c474b8" stroke-width="1.0"/>
<line x1="522.12" y1="86.24" x2="527.30" y2="89.24" stroke="#808078" stroke-width="1.0"/>
<line x1="516.94" y1="83.23" x2="522.12" y2="80.22" stroke="#c474b8" stroke-width="1.0"/>
<line x1="522.12" y1="80.22" x2="527.30" y2="77.22" stroke="#8cd820" stroke-width="1.0"/>
<line x1="516.94" y1="83.23" x2="511.76" y2="86.24" stroke="#c474b8" stroke-width="1.0"/>
<line x1="511.76" y1="86.24" x2="506.58" y2="89.24" stroke="#808078" stroke-width="1.0"/>
<line x1="516.94" y1="83.23" x2="516.94" y2="95.25" stroke="#8cd820" stroke-width="1.0"/>
<line x1="516.94" y1="83.23" x2="516.94" y2="86.84" stroke="#c474b8" stroke-width="1.0"/>
<line x1="516.94" y1="95.25" x2="516.94" y2="91.64" stroke="#c474b8" stroke-width="1.0"/>
<line x1="516.94" y1="83.23" x2="516.94" y2="77.22" stroke="#c474b8" stroke-width="1.0"/>
<line x1="516.94" y1="77.22" x2="516.94" y2="71.21" stroke="#8cd820" stroke-width="1.0"/>
<line x1="506.58" y1="89.24" x2="511.76" y2="92.25" stroke="#808078" stroke-width="1.0"/>
<line x1="511.76" y1="92.25" x2="516.94" y2="95.25" stroke="#c474b8" stroke-width="1.0"/>
<line x1="506.58" y1="89.24" x2="501.40" y2="92.25" stroke="#808078" stroke-width="1.0"/>
<line x1="501.40" y1="92.25" x2="496.22" y2="95.25" stroke="#c474b8" stroke-width="1.0"/>
<line x1="506.58" y1="89.24" x2="506.58" y2="95.25" stroke="#808078" stroke-width="1.0"/>
<line x1="506.58" y1="95.25" x2="506.58" y2="101.26" stroke="#c474b8" stroke-width="1.0"/>
<line x1="527.30" y1="89.24" x2="532.48" y2="92.25" stroke="#808078" stroke-width="1.0"/>
<line x1="532.48" y1="92.25" x2="537.66" y2="95.25" stroke="#8cd820" stroke-width="1.0"/>
<line x1="527.30" y1="89.24" x2="522.12" y2="92.25" stroke="#808078" stroke-width="1.0"/>
<line x1="522.12" y1="92.25" x2="516.94" y2="95.25" stroke="#c474b8" stroke-width="1.0"/>
<line x1="527.30" y1="89.24" x2="527.30" y2="95.25" stroke="#808078" stroke-width="1.0"/>
<line x1="527.30" y1="95.25" x2="527.30" y2="101.26" stroke="#c474b8" stroke-width="1.0"/>
<line x1="527.30" y1="89.24" x2="527.30" y2="83.23" stroke="#808078" stroke-width="1.0"/>
<line x1="527.30" y1="83.23" x2="527.30" y2="77.22" stroke="#8cd820" stroke-width="1.0"/>
<line x1="496.22" y1="95.25" x2="506.58" y2="101.26" stroke="#8cd820" stroke-width="1.0"/>
<line x1="496.22" y1="95.25" x2="499.33" y2="97.05" stroke="#c474b8" stroke-width="1.0"/>
<line x1="506.58" y1="101.26" x2="503.47" y2="99.46" stroke="#c474b8" stroke-width="1.0"/>
<line x1="496.22" y1="95.25" x2="491.04" y2="98.25" stroke="#c474b8" stroke-width="1.0"/>
<line x1="491.04" y1="98.25" x2="485.86" y2="101.26" stroke="#8cd820" stroke-width="1.0"/>
<line x1="496.22" y1="95.25" x2="491.04" y2="92.25" stroke="#c474b8" stroke-width="1.0"/>
<line x1="491.04" y1="92.25" x2="485.86" y2="89.24" stroke="#8cd820" stroke-width="1.0"/>
<line x1="496.22" y1="95.25" x2="496.22" y2="101.26" stroke="#c474b8" stroke-width="1.0"/>
<line x1="496.22" y1="101.26" x2="496.22" y2="107.27" stroke="#8cd820" stroke-width="1.0"/>
<line x1="516.94" y1="95.25" x2="527.30" y2="101.26" stroke="#8cd820" stroke-width="1.0"/>
<line x1="516.94" y1="95.25" x2="520.05" y2="97.05" stroke="#c474b8" stroke-width="1.0"/>
<line x1="527.30" y1="101.26" x2="524.19" y2="99.46" stroke="#c474b8" stroke-width="1.0"/>
<line x1="516.94" y1="95.25" x2="506.58" y2="101.26" stroke="#8cd820" stroke-width="1.0"/>
<line x1="516.94" y1="95.25" x2="513.83" y2="97.05" stroke="#c474b8" stroke-width="1.0"/>
<line x1="506.58" y1="101.26" x2="509.69" y2="99.46" stroke="#c474b8" stroke-width="1.0"/>
<line x1="516.94" y1="95.25" x2="516.94" y2="101.26" stroke="#c474b8" stroke-width="1.0"/>
<line x1="516.94" y1="101.26" x2="516.94" y2="107.27" stroke="#808078" stroke-width="1.0"/>
<line x1="506.58" y1="101.26" x2="511.76" y2="104.27" stroke="#c474b8" stroke-width="1.0"/>
<line x1="511.76" y1="104.27" x2="516.94" y2="107.27" stroke="#808078" stroke-width="1.0"/>
<line x1="506.58" y1="101.26" x2="501.40" y2="104.27" stroke="#c474b8" stroke-width="1.0"/>
<line x1="501.40" y1="104.27" x2="496.22" y2="107.27" stroke="#8cd820" stroke-width="1.0"/>
<line x1="506.58" y1="101.26" x2="506.58" y2="107.27" stroke="#c474b8" stroke-width="1.0"/>
<line x1="506.58" y1="107.27" x2="506.58" y2="113.28" stroke="#8cd820" stroke-width="1.0"/>
<line x1="527.30" y1="101.26" x2="532.48" y2="104.27" stroke="#c474b8" stroke-width="1.0"/>
<line x1="532.48" y1="104.27" x2="537.66" y2="107.27" stroke="#808078" stroke-width="1.0"/>
<line x1="527.30" y1="101.26" x2="532.48" y2="98.25" stroke="#c474b8" stroke-width="1.0"/>
<line x1="532.48" y1="98.25" x2="537.66" y2="95.25" stroke="#8cd820" stroke-width="1.0"/>
<line x1="527.30" y1="101.26" x2="522.12" y2="104.27" stroke="#c474b8" stroke-width="1.0"/>
<line x1="522.12" y1="104.27" x2="516.94" y2="107.27" stroke="#808078" stroke-width="1.0"/>
<line x1="527.30" y1="101.26" x2="527.30" y2="107.27" stroke="#c474b8" stroke-width="1.0"/>
<line x1="527.30" y1="107.27" x2="527.30" y2="113.28" stroke="#8cd820" stroke-width="1.0"/>
<line x1="516.94" y1="107.27" x2="522.12" y2="110.28" stroke="#808078" stroke-width="1.0"/>
<line x1="522.12" y1="110.28" x2="527.30" y2="113.28" stroke="#8cd820" stroke-width="1.0"/>
<line x1="516.94" y1="107.27" x2="511.76" y2="110.28" stroke="#808078" stroke-width="1.0"/>
<line x1="511.76" y1="110.28" x2="506.58" y2="113.28" stroke="#8cd820" stroke-width="1.0"/>
<line x1="537.66" y1="107.27" x2="542.84" y2="110.28" stroke="#808078" stroke-width="1.0"/>
<line x1="542.84" y1="110.28" x2="548.02" y2="113.28" stroke="#8cd820" stroke-width="1.0"/>
<line x1="537.66" y1="107.27" x2="532.48" y2="110.28" stroke="#808078" stroke-width="1.0"/>
<line x1="532.48" y1="110.28" x2="527.30" y2="113.28" stroke="#8cd820" stroke-width="1.0"/>
<line x1="537.66" y1="107.27" x2="537.66" y2="101.26" stroke="#808078" stroke-width="1.0"/>
<line x1="537.66" y1="101.26" x2="537.66" y2="95.25" stroke="#8cd820" stroke-width="1.0"/>
<polygon points="485.86,89.24 506.58,89.24 516.94,107.27 496.22,107.27" fill="none" stroke="#333" stroke-width="0.9"/>
<circle cx="485.86" cy="65.20" r="1.88" fill="url(#gSe)" stroke="#5c9400" stroke-width="0.45"/>
<circle cx="506.58" cy="65.20" r="1.88" fill="url(#gSe)" stroke="#5c9400" stroke-width="0.45"/>
<circle cx="475.50" cy="71.21" r="1.88" fill="url(#gSe)" stroke="#5c9400" stroke-width="0.45"/>
<circle cx="496.22" cy="71.21" r="1.88" fill="url(#gSe)" stroke="#5c9400" stroke-width="0.45"/>
<circle cx="516.94" cy="71.21" r="1.88" fill="url(#gSe)" stroke="#5c9400" stroke-width="0.45"/>
<circle cx="485.86" cy="77.22" r="3.02" fill="url(#gIn)" stroke="#8a4482" stroke-width="0.55"/>
<circle cx="485.86" cy="77.22" r="1.98" fill="url(#gSe)" stroke="#5c9400" stroke-width="0.45"/>
<circle cx="506.58" cy="77.22" r="3.02" fill="url(#gIn)" stroke="#8a4482" stroke-width="0.55"/>
<circle cx="506.58" cy="77.22" r="1.98" fill="url(#gSe)" stroke="#5c9400" stroke-width="0.45"/>
<circle cx="527.30" cy="77.22" r="1.88" fill="url(#gSe)" stroke="#5c9400" stroke-width="0.45"/>
<circle cx="475.50" cy="83.23" r="1.88" fill="url(#gSe)" stroke="#5c9400" stroke-width="0.45"/>
<circle cx="496.22" cy="83.23" r="3.02" fill="url(#gIn)" stroke="#8a4482" stroke-width="0.55"/>
<circle cx="496.22" cy="83.23" r="1.98" fill="url(#gSe)" stroke="#5c9400" stroke-width="0.45"/>
<circle cx="516.94" cy="83.23" r="3.02" fill="url(#gIn)" stroke="#8a4482" stroke-width="0.55"/>
<circle cx="516.94" cy="83.23" r="1.98" fill="url(#gSe)" stroke="#5c9400" stroke-width="0.45"/>
<circle cx="485.86" cy="89.24" r="1.88" fill="url(#gSe)" stroke="#5c9400" stroke-width="0.45"/>
<circle cx="506.58" cy="89.24" r="2.42" fill="url(#gZn)" stroke="#4a4a46" stroke-width="0.75"/>
<circle cx="527.30" cy="89.24" r="2.42" fill="url(#gZn)" stroke="#4a4a46" stroke-width="0.75"/>
<circle cx="496.22" cy="95.25" r="3.02" fill="url(#gIn)" stroke="#8a4482" stroke-width="0.55"/>
<circle cx="496.22" cy="95.25" r="1.98" fill="url(#gSe)" stroke="#5c9400" stroke-width="0.45"/>
<circle cx="516.94" cy="95.25" r="3.02" fill="url(#gIn)" stroke="#8a4482" stroke-width="0.55"/>
<circle cx="516.94" cy="95.25" r="1.98" fill="url(#gSe)" stroke="#5c9400" stroke-width="0.45"/>
<circle cx="537.66" cy="95.25" r="1.88" fill="url(#gSe)" stroke="#5c9400" stroke-width="0.45"/>
<circle cx="485.86" cy="101.26" r="1.88" fill="url(#gSe)" stroke="#5c9400" stroke-width="0.45"/>
<circle cx="506.58" cy="101.26" r="3.02" fill="url(#gIn)" stroke="#8a4482" stroke-width="0.55"/>
<circle cx="506.58" cy="101.26" r="1.98" fill="url(#gSe)" stroke="#5c9400" stroke-width="0.45"/>
<circle cx="527.30" cy="101.26" r="3.02" fill="url(#gIn)" stroke="#8a4482" stroke-width="0.55"/>
<circle cx="527.30" cy="101.26" r="1.98" fill="url(#gSe)" stroke="#5c9400" stroke-width="0.45"/>
<circle cx="496.22" cy="107.27" r="1.88" fill="url(#gSe)" stroke="#5c9400" stroke-width="0.45"/>
<circle cx="516.94" cy="107.27" r="2.42" fill="url(#gZn)" stroke="#4a4a46" stroke-width="0.75"/>
<circle cx="537.66" cy="107.27" r="2.42" fill="url(#gZn)" stroke="#4a4a46" stroke-width="0.75"/>
<circle cx="506.58" cy="113.28" r="1.88" fill="url(#gSe)" stroke="#5c9400" stroke-width="0.45"/>
<circle cx="527.30" cy="113.28" r="1.88" fill="url(#gSe)" stroke="#5c9400" stroke-width="0.45"/>
<circle cx="548.02" cy="113.28" r="1.88" fill="url(#gSe)" stroke="#5c9400" stroke-width="0.45"/>
<text x="0" y="0" font-family="'Liberation Serif', serif" font-size="10.55" font-weight="bold" text-anchor="start" fill="#000" transform="translate(457.40 141.20) scale(1 1.06)">stacking II with P</text>
<line x1="539.72" y1="140.10" x2="539.72" y2="143.20" stroke="#111" stroke-width="1.05"/>
<polygon points="539.72,144.70 538.27,142.30 541.17,142.30" fill="#111"/>
<text x="0" y="0" font-family="'Liberation Serif', serif" font-size="11" font-weight="bold" text-anchor="start" fill="#000" transform="translate(45.10 334.40) scale(1 1.06)">(f)</text>
<line x1="37.90" y1="367.00" x2="37.90" y2="352.90" stroke="#d40000" stroke-width="1.8"/>
<polygon points="37.90,346.40 40.70,353.40 37.90,352.60 35.10,353.40" fill="#d40000"/>
<line x1="37.90" y1="367.00" x2="53.90" y2="367.00" stroke="#0000f0" stroke-width="1.8"/>
<polygon points="60.40,367.00 53.40,369.80 54.20,367.00 53.40,364.20" fill="#0000f0"/>
<circle cx="37.9" cy="367.0" r="1.7999999999999998" fill="#3a5a3a" stroke="#109a10" stroke-width="1.1"/>
<circle cx="38.2" cy="342.0" r="0.8" fill="#222"/>
<circle cx="65.4" cy="367.0" r="0.8" fill="#222"/>
<path d="M158.6 350.4 H78 V369.7 H158.6" fill="none" stroke="#777" stroke-width="1.1"/>
<line x1="119.40" y1="324.80" x2="115.00" y2="331.15" stroke="#8cd820" stroke-width="1.1"/>
<line x1="115.00" y1="331.15" x2="110.60" y2="337.50" stroke="#c474b8" stroke-width="1.1"/>
<line x1="103.70" y1="331.30" x2="107.15" y2="334.40" stroke="#8cd820" stroke-width="1.1"/>
<line x1="107.15" y1="334.40" x2="110.60" y2="337.50" stroke="#c474b8" stroke-width="1.1"/>
<line x1="110.60" y1="337.50" x2="115.00" y2="340.75" stroke="#c474b8" stroke-width="1.1"/>
<line x1="115.00" y1="340.75" x2="119.40" y2="344.00" stroke="#8cd820" stroke-width="1.1"/>
<line x1="110.60" y1="337.50" x2="107.15" y2="343.90" stroke="#c474b8" stroke-width="1.1"/>
<line x1="107.15" y1="343.90" x2="103.70" y2="350.30" stroke="#8cd820" stroke-width="1.1"/>
<line x1="119.40" y1="344.00" x2="125.75" y2="344.00" stroke="#8cd820" stroke-width="1.1"/>
<line x1="125.75" y1="344.00" x2="132.10" y2="344.00" stroke="#c474b8" stroke-width="1.1"/>
<line x1="132.10" y1="344.00" x2="135.35" y2="337.65" stroke="#c474b8" stroke-width="1.1"/>
<line x1="135.35" y1="337.65" x2="138.60" y2="331.30" stroke="#8cd820" stroke-width="1.1"/>
<line x1="132.10" y1="344.00" x2="135.35" y2="347.15" stroke="#c474b8" stroke-width="1.1"/>
<line x1="135.35" y1="347.15" x2="138.60" y2="350.30" stroke="#8cd820" stroke-width="1.1"/>
<line x1="119.40" y1="344.00" x2="115.00" y2="350.40" stroke="#8cd820" stroke-width="1.1"/>
<line x1="115.00" y1="350.40" x2="110.60" y2="356.80" stroke="#c474b8" stroke-width="1.1"/>
<line x1="103.70" y1="350.30" x2="107.15" y2="353.55" stroke="#8cd820" stroke-width="1.1"/>
<line x1="107.15" y1="353.55" x2="110.60" y2="356.80" stroke="#c474b8" stroke-width="1.1"/>
<line x1="110.60" y1="356.80" x2="115.00" y2="360.20" stroke="#c474b8" stroke-width="1.1"/>
<line x1="115.00" y1="360.20" x2="119.40" y2="363.60" stroke="#8cd820" stroke-width="1.1"/>
<line x1="110.60" y1="356.80" x2="107.15" y2="363.20" stroke="#c474b8" stroke-width="1.1"/>
<line x1="107.15" y1="363.20" x2="103.70" y2="369.60" stroke="#8cd820" stroke-width="1.1"/>
<line x1="119.40" y1="363.60" x2="125.75" y2="363.35" stroke="#8cd820" stroke-width="1.1"/>
<line x1="125.75" y1="363.35" x2="132.10" y2="363.10" stroke="#c474b8" stroke-width="1.1"/>
<line x1="132.10" y1="363.10" x2="135.35" y2="356.70" stroke="#c474b8" stroke-width="1.1"/>
<line x1="135.35" y1="356.70" x2="138.60" y2="350.30" stroke="#8cd820" stroke-width="1.1"/>
<line x1="132.10" y1="363.10" x2="135.35" y2="366.50" stroke="#c474b8" stroke-width="1.1"/>
<line x1="135.35" y1="366.50" x2="138.60" y2="369.90" stroke="#8cd820" stroke-width="1.1"/>
<line x1="156.00" y1="324.80" x2="155.00" y2="331.35" stroke="#8cd820" stroke-width="1.1"/>
<line x1="155.00" y1="331.35" x2="154.00" y2="337.90" stroke="#808078" stroke-width="1.1"/>
<line x1="154.00" y1="337.90" x2="155.00" y2="340.95" stroke="#808078" stroke-width="1.1"/>
<line x1="155.00" y1="340.95" x2="156.00" y2="344.00" stroke="#8cd820" stroke-width="1.1"/>
<line x1="156.00" y1="344.00" x2="155.00" y2="350.40" stroke="#8cd820" stroke-width="1.1"/>
<line x1="155.00" y1="350.40" x2="154.00" y2="356.80" stroke="#808078" stroke-width="1.1"/>
<line x1="154.00" y1="356.80" x2="155.00" y2="360.20" stroke="#808078" stroke-width="1.1"/>
<line x1="155.00" y1="360.20" x2="156.00" y2="363.60" stroke="#8cd820" stroke-width="1.1"/>
<circle cx="119.40" cy="324.80" r="1.77" fill="url(#gSe)" stroke="#5c9400" stroke-width="0.45"/>
<circle cx="103.70" cy="331.30" r="1.77" fill="url(#gSe)" stroke="#5c9400" stroke-width="0.45"/>
<circle cx="110.60" cy="337.50" r="2.93" fill="url(#gIn)" stroke="#8a4482" stroke-width="0.55"/>
<circle cx="138.60" cy="331.30" r="1.77" fill="url(#gSe)" stroke="#5c9400" stroke-width="0.45"/>
<circle cx="119.40" cy="344.00" r="1.77" fill="url(#gSe)" stroke="#5c9400" stroke-width="0.45"/>
<circle cx="132.10" cy="344.00" r="2.93" fill="url(#gIn)" stroke="#8a4482" stroke-width="0.55"/>
<circle cx="103.70" cy="350.30" r="1.77" fill="url(#gSe)" stroke="#5c9400" stroke-width="0.45"/>
<circle cx="138.60" cy="350.30" r="1.77" fill="url(#gSe)" stroke="#5c9400" stroke-width="0.45"/>
<circle cx="110.60" cy="356.80" r="2.93" fill="url(#gIn)" stroke="#8a4482" stroke-width="0.55"/>
<circle cx="119.40" cy="363.60" r="1.77" fill="url(#gSe)" stroke="#5c9400" stroke-width="0.45"/>
<circle cx="132.10" cy="363.10" r="2.93" fill="url(#gIn)" stroke="#8a4482" stroke-width="0.55"/>
<circle cx="103.70" cy="369.60" r="1.77" fill="url(#gSe)" stroke="#5c9400" stroke-width="0.45"/>
<circle cx="138.60" cy="369.90" r="1.77" fill="url(#gSe)" stroke="#5c9400" stroke-width="0.45"/>
<circle cx="156.00" cy="324.80" r="1.77" fill="url(#gSe)" stroke="#5c9400" stroke-width="0.45"/>
<circle cx="154.00" cy="337.90" r="2.12" fill="url(#gZn)" stroke="#4a4a46" stroke-width="0.75"/>
<circle cx="156.00" cy="344.00" r="1.77" fill="url(#gSe)" stroke="#5c9400" stroke-width="0.45"/>
<circle cx="154.00" cy="356.80" r="2.12" fill="url(#gZn)" stroke="#4a4a46" stroke-width="0.75"/>
<circle cx="156.00" cy="363.60" r="1.77" fill="url(#gSe)" stroke="#5c9400" stroke-width="0.45"/>
<line x1="47.40" y1="427.20" x2="63.30" y2="427.20" stroke="#ee0000" stroke-width="1.8"/>
<polygon points="69.80,427.20 62.80,430.00 63.60,427.20 62.80,424.40" fill="#ee0000"/>
<line x1="47.40" y1="427.20" x2="38.76" y2="411.68" stroke="#00dd00" stroke-width="1.8"/>
<polygon points="35.60,406.00 41.45,410.75 38.62,411.42 36.56,413.48" fill="#00dd00"/>
<circle cx="47.4" cy="427.2" r="1.95" fill="#2a2a55" stroke="#0000b8" stroke-width="1.1"/>
<circle cx="33.8" cy="401.6" r="0.8" fill="#222"/>
<circle cx="75.2" cy="427.2" r="0.8" fill="#222"/>
<line x1="96.75" y1="394.50" x2="101.97" y2="397.70" stroke="#c474b8" stroke-width="1.0"/>
<line x1="101.97" y1="397.70" x2="107.20" y2="400.90" stroke="#c474b8" stroke-width="1.0"/>
<line x1="96.75" y1="394.50" x2="101.97" y2="391.30" stroke="#c474b8" stroke-width="1.0"/>
<line x1="101.97" y1="391.30" x2="107.20" y2="388.10" stroke="#8cd820" stroke-width="1.0"/>
<line x1="96.75" y1="394.50" x2="91.53" y2="391.30" stroke="#c474b8" stroke-width="1.0"/>
<line x1="91.53" y1="391.30" x2="86.30" y2="388.10" stroke="#8cd820" stroke-width="1.0"/>
<line x1="96.75" y1="394.50" x2="96.75" y2="400.90" stroke="#c474b8" stroke-width="1.0"/>
<line x1="96.75" y1="400.90" x2="96.75" y2="407.30" stroke="#8cd820" stroke-width="1.0"/>
<line x1="117.65" y1="394.50" x2="122.88" y2="397.70" stroke="#c474b8" stroke-width="1.0"/>
<line x1="122.88" y1="397.70" x2="128.10" y2="400.90" stroke="#c474b8" stroke-width="1.0"/>
<line x1="117.65" y1="394.50" x2="122.88" y2="391.30" stroke="#c474b8" stroke-width="1.0"/>
<line x1="122.88" y1="391.30" x2="128.10" y2="388.10" stroke="#8cd820" stroke-width="1.0"/>
<line x1="117.65" y1="394.50" x2="112.42" y2="397.70" stroke="#c474b8" stroke-width="1.0"/>
<line x1="112.42" y1="397.70" x2="107.20" y2="400.90" stroke="#c474b8" stroke-width="1.0"/>
<line x1="117.65" y1="394.50" x2="112.42" y2="391.30" stroke="#c474b8" stroke-width="1.0"/>
<line x1="112.42" y1="391.30" x2="107.20" y2="388.10" stroke="#8cd820" stroke-width="1.0"/>
<line x1="117.65" y1="394.50" x2="117.65" y2="400.90" stroke="#c474b8" stroke-width="1.0"/>
<line x1="117.65" y1="400.90" x2="117.65" y2="407.30" stroke="#8cd820" stroke-width="1.0"/>
<line x1="107.20" y1="400.90" x2="112.42" y2="404.10" stroke="#c474b8" stroke-width="1.0"/>
<line x1="112.42" y1="404.10" x2="117.65" y2="407.30" stroke="#8cd820" stroke-width="1.0"/>
<line x1="107.20" y1="400.90" x2="101.97" y2="404.10" stroke="#c474b8" stroke-width="1.0"/>
<line x1="101.97" y1="404.10" x2="96.75" y2="407.30" stroke="#8cd820" stroke-width="1.0"/>
<line x1="107.20" y1="400.90" x2="107.20" y2="407.30" stroke="#c474b8" stroke-width="1.0"/>
<line x1="107.20" y1="407.30" x2="107.20" y2="413.70" stroke="#c474b8" stroke-width="1.0"/>
<line x1="107.20" y1="400.90" x2="107.20" y2="394.50" stroke="#c474b8" stroke-width="1.0"/>
<line x1="107.20" y1="394.50" x2="107.20" y2="388.10" stroke="#8cd820" stroke-width="1.0"/>
<line x1="128.10" y1="400.90" x2="133.32" y2="404.10" stroke="#c474b8" stroke-width="1.0"/>
<line x1="133.32" y1="404.10" x2="138.55" y2="407.30" stroke="#8cd820" stroke-width="1.0"/>
<line x1="128.10" y1="400.90" x2="133.32" y2="397.70" stroke="#c474b8" stroke-width="1.0"/>
<line x1="133.32" y1="397.70" x2="138.55" y2="394.50" stroke="#8cd820" stroke-width="1.0"/>
<line x1="128.10" y1="400.90" x2="122.88" y2="404.10" stroke="#c474b8" stroke-width="1.0"/>
<line x1="122.88" y1="404.10" x2="117.65" y2="407.30" stroke="#8cd820" stroke-width="1.0"/>
<line x1="128.10" y1="400.90" x2="128.10" y2="407.30" stroke="#c474b8" stroke-width="1.0"/>
<line x1="128.10" y1="407.30" x2="128.10" y2="413.70" stroke="#c474b8" stroke-width="1.0"/>
<line x1="128.10" y1="400.90" x2="128.10" y2="394.50" stroke="#c474b8" stroke-width="1.0"/>
<line x1="128.10" y1="394.50" x2="128.10" y2="388.10" stroke="#8cd820" stroke-width="1.0"/>
<line x1="107.20" y1="413.70" x2="112.42" y2="416.90" stroke="#c474b8" stroke-width="1.0"/>
<line x1="112.42" y1="416.90" x2="117.65" y2="420.10" stroke="#c474b8" stroke-width="1.0"/>
<line x1="107.20" y1="413.70" x2="112.42" y2="410.50" stroke="#c474b8" stroke-width="1.0"/>
<line x1="112.42" y1="410.50" x2="117.65" y2="407.30" stroke="#8cd820" stroke-width="1.0"/>
<line x1="107.20" y1="413.70" x2="101.97" y2="410.50" stroke="#c474b8" stroke-width="1.0"/>
<line x1="101.97" y1="410.50" x2="96.75" y2="407.30" stroke="#8cd820" stroke-width="1.0"/>
<line x1="107.20" y1="413.70" x2="107.20" y2="420.10" stroke="#c474b8" stroke-width="1.0"/>
<line x1="107.20" y1="420.10" x2="107.20" y2="426.50" stroke="#8cd820" stroke-width="1.0"/>
<line x1="128.10" y1="413.70" x2="133.32" y2="416.90" stroke="#c474b8" stroke-width="1.0"/>
<line x1="133.32" y1="416.90" x2="138.55" y2="420.10" stroke="#c474b8" stroke-width="1.0"/>
<line x1="128.10" y1="413.70" x2="133.32" y2="410.50" stroke="#c474b8" stroke-width="1.0"/>
<line x1="133.32" y1="410.50" x2="138.55" y2="407.30" stroke="#8cd820" stroke-width="1.0"/>
<line x1="128.10" y1="413.70" x2="122.88" y2="416.90" stroke="#c474b8" stroke-width="1.0"/>
<line x1="122.88" y1="416.90" x2="117.65" y2="420.10" stroke="#c474b8" stroke-width="1.0"/>
<line x1="128.10" y1="413.70" x2="122.88" y2="410.50" stroke="#c474b8" stroke-width="1.0"/>
<line x1="122.88" y1="410.50" x2="117.65" y2="407.30" stroke="#8cd820" stroke-width="1.0"/>
<line x1="128.10" y1="413.70" x2="128.10" y2="420.10" stroke="#c474b8" stroke-width="1.0"/>
<line x1="128.10" y1="420.10" x2="128.10" y2="426.50" stroke="#8cd820" stroke-width="1.0"/>
<line x1="117.65" y1="420.10" x2="122.88" y2="423.30" stroke="#c474b8" stroke-width="1.0"/>
<line x1="122.88" y1="423.30" x2="128.10" y2="426.50" stroke="#8cd820" stroke-width="1.0"/>
<line x1="117.65" y1="420.10" x2="112.42" y2="423.30" stroke="#c474b8" stroke-width="1.0"/>
<line x1="112.42" y1="423.30" x2="107.20" y2="426.50" stroke="#8cd820" stroke-width="1.0"/>
<line x1="117.65" y1="420.10" x2="117.65" y2="426.50" stroke="#c474b8" stroke-width="1.0"/>
<line x1="117.65" y1="426.50" x2="117.65" y2="432.90" stroke="#8cd820" stroke-width="1.0"/>
<line x1="117.65" y1="420.10" x2="117.65" y2="413.70" stroke="#c474b8" stroke-width="1.0"/>
<line x1="117.65" y1="413.70" x2="117.65" y2="407.30" stroke="#8cd820" stroke-width="1.0"/>
<line x1="138.55" y1="420.10" x2="143.78" y2="423.30" stroke="#c474b8" stroke-width="1.0"/>
<line x1="143.78" y1="423.30" x2="149.00" y2="426.50" stroke="#8cd820" stroke-width="1.0"/>
<line x1="138.55" y1="420.10" x2="143.78" y2="416.90" stroke="#c474b8" stroke-width="1.0"/>
<line x1="143.78" y1="416.90" x2="149.00" y2="413.70" stroke="#8cd820" stroke-width="1.0"/>
<line x1="138.55" y1="420.10" x2="133.32" y2="423.30" stroke="#c474b8" stroke-width="1.0"/>
<line x1="133.32" y1="423.30" x2="128.10" y2="426.50" stroke="#8cd820" stroke-width="1.0"/>
<line x1="138.55" y1="420.10" x2="138.55" y2="426.50" stroke="#c474b8" stroke-width="1.0"/>
<line x1="138.55" y1="426.50" x2="138.55" y2="432.90" stroke="#8cd820" stroke-width="1.0"/>
<line x1="138.55" y1="420.10" x2="138.55" y2="413.70" stroke="#c474b8" stroke-width="1.0"/>
<line x1="138.55" y1="413.70" x2="138.55" y2="407.30" stroke="#8cd820" stroke-width="1.0"/>
<polygon points="96.75,407.30 117.65,407.30 128.10,426.50 107.20,426.50" fill="none" stroke="#333" stroke-width="0.9"/>
<circle cx="86.30" cy="388.10" r="1.88" fill="url(#gSe)" stroke="#5c9400" stroke-width="0.45"/>
<circle cx="107.20" cy="388.10" r="1.88" fill="url(#gSe)" stroke="#5c9400" stroke-width="0.45"/>
<circle cx="128.10" cy="388.10" r="1.88" fill="url(#gSe)" stroke="#5c9400" stroke-width="0.45"/>
<circle cx="96.75" cy="394.50" r="3.02" fill="url(#gIn)" stroke="#8a4482" stroke-width="0.55"/>
<circle cx="96.75" cy="394.50" r="1.98" fill="url(#gSe)" stroke="#5c9400" stroke-width="0.45"/>
<circle cx="117.65" cy="394.50" r="3.02" fill="url(#gIn)" stroke="#8a4482" stroke-width="0.55"/>
<circle cx="117.65" cy="394.50" r="1.98" fill="url(#gSe)" stroke="#5c9400" stroke-width="0.45"/>
<circle cx="138.55" cy="394.50" r="1.88" fill="url(#gSe)" stroke="#5c9400" stroke-width="0.45"/>
<circle cx="107.20" cy="400.90" r="2.42" fill="url(#gZn)" stroke="#4a4a46" stroke-width="0.75"/>
<circle cx="128.10" cy="400.90" r="2.42" fill="url(#gZn)" stroke="#4a4a46" stroke-width="0.75"/>
<circle cx="96.75" cy="407.30" r="1.88" fill="url(#gSe)" stroke="#5c9400" stroke-width="0.45"/>
<circle cx="117.65" cy="407.30" r="1.88" fill="url(#gSe)" stroke="#5c9400" stroke-width="0.45"/>
<circle cx="138.55" cy="407.30" r="1.88" fill="url(#gSe)" stroke="#5c9400" stroke-width="0.45"/>
<circle cx="107.20" cy="413.70" r="3.02" fill="url(#gIn)" stroke="#8a4482" stroke-width="0.55"/>
<circle cx="107.20" cy="413.70" r="1.98" fill="url(#gSe)" stroke="#5c9400" stroke-width="0.45"/>
<circle cx="128.10" cy="413.70" r="3.02" fill="url(#gIn)" stroke="#8a4482" stroke-width="0.55"/>
<circle cx="128.10" cy="413.70" r="1.98" fill="url(#gSe)" stroke="#5c9400" stroke-width="0.45"/>
<circle cx="149.00" cy="413.70" r="1.88" fill="url(#gSe)" stroke="#5c9400" stroke-width="0.45"/>
<circle cx="117.65" cy="420.10" r="2.42" fill="url(#gZn)" stroke="#4a4a46" stroke-width="0.75"/>
<circle cx="138.55" cy="420.10" r="2.42" fill="url(#gZn)" stroke="#4a4a46" stroke-width="0.75"/>
<circle cx="107.20" cy="426.50" r="1.88" fill="url(#gSe)" stroke="#5c9400" stroke-width="0.45"/>
<circle cx="128.10" cy="426.50" r="1.88" fill="url(#gSe)" stroke="#5c9400" stroke-width="0.45"/>
<circle cx="149.00" cy="426.50" r="1.88" fill="url(#gSe)" stroke="#5c9400" stroke-width="0.45"/>
<circle cx="117.65" cy="432.90" r="1.88" fill="url(#gSe)" stroke="#5c9400" stroke-width="0.45"/>
<circle cx="138.55" cy="432.90" r="1.88" fill="url(#gSe)" stroke="#5c9400" stroke-width="0.45"/>
<text x="0" y="0" font-family="'Liberation Serif', serif" font-size="10.6" font-weight="bold" text-anchor="start" fill="#000" transform="translate(73.90 453.00) scale(1 1.06)">stacking I with P</text>
<line x1="152.47" y1="453.40" x2="152.47" y2="456.50" stroke="#111" stroke-width="1.05"/>
<polygon points="152.47,451.90 151.02,454.30 153.92,454.30" fill="#111"/>
<text x="0" y="0" font-family="'Liberation Serif', serif" font-size="11" font-weight="bold" text-anchor="start" fill="#000" transform="translate(441.70 334.40) scale(1 1.06)">(h)</text>
<line x1="436.60" y1="368.70" x2="436.60" y2="355.90" stroke="#d40000" stroke-width="1.8"/>
<polygon points="436.60,349.40 439.40,356.40 436.60,355.60 433.80,356.40" fill="#d40000"/>
<line x1="436.60" y1="368.70" x2="450.30" y2="368.70" stroke="#0000f0" stroke-width="1.8"/>
<polygon points="456.80,368.70 449.80,371.50 450.60,368.70 449.80,365.90" fill="#0000f0"/>
<circle cx="436.6" cy="368.7" r="1.7999999999999998" fill="#3a5a3a" stroke="#109a10" stroke-width="1.1"/>
<circle cx="436.6" cy="344.8" r="0.8" fill="#222"/>
<circle cx="462.0" cy="368.7" r="0.8" fill="#222"/>
<path d="M554 353.5 H480 V371.4 H554" fill="none" stroke="#777" stroke-width="1.1"/>
<line x1="517.80" y1="329.00" x2="513.85" y2="335.05" stroke="#8cd820" stroke-width="1.1"/>
<line x1="513.85" y1="335.05" x2="509.90" y2="341.10" stroke="#c474b8" stroke-width="1.1"/>
<line x1="503.70" y1="335.20" x2="506.80" y2="338.15" stroke="#8cd820" stroke-width="1.1"/>
<line x1="506.80" y1="338.15" x2="509.90" y2="341.10" stroke="#c474b8" stroke-width="1.1"/>
<line x1="509.90" y1="341.10" x2="513.85" y2="344.20" stroke="#c474b8" stroke-width="1.1"/>
<line x1="513.85" y1="344.20" x2="517.80" y2="347.30" stroke="#8cd820" stroke-width="1.1"/>
<line x1="509.90" y1="341.10" x2="506.80" y2="347.30" stroke="#c474b8" stroke-width="1.1"/>
<line x1="506.80" y1="347.30" x2="503.70" y2="353.50" stroke="#8cd820" stroke-width="1.1"/>
<line x1="517.80" y1="347.30" x2="523.50" y2="347.15" stroke="#8cd820" stroke-width="1.1"/>
<line x1="523.50" y1="347.15" x2="529.20" y2="347.00" stroke="#c474b8" stroke-width="1.1"/>
<line x1="529.20" y1="347.00" x2="532.15" y2="341.10" stroke="#c474b8" stroke-width="1.1"/>
<line x1="532.15" y1="341.10" x2="535.10" y2="335.20" stroke="#8cd820" stroke-width="1.1"/>
<line x1="529.20" y1="347.00" x2="532.15" y2="350.25" stroke="#c474b8" stroke-width="1.1"/>
<line x1="532.15" y1="350.25" x2="535.10" y2="353.50" stroke="#8cd820" stroke-width="1.1"/>
<line x1="535.10" y1="335.20" x2="541.95" y2="335.20" stroke="#8cd820" stroke-width="1.1"/>
<line x1="541.95" y1="335.20" x2="548.80" y2="335.20" stroke="#808078" stroke-width="1.1"/>
<line x1="548.80" y1="335.20" x2="549.75" y2="332.10" stroke="#808078" stroke-width="1.1"/>
<line x1="549.75" y1="332.10" x2="550.70" y2="329.00" stroke="#8cd820" stroke-width="1.1"/>
<line x1="548.80" y1="335.20" x2="549.75" y2="341.10" stroke="#808078" stroke-width="1.1"/>
<line x1="549.75" y1="341.10" x2="550.70" y2="347.00" stroke="#8cd820" stroke-width="1.1"/>
<line x1="550.70" y1="347.00" x2="549.75" y2="350.25" stroke="#8cd820" stroke-width="1.1"/>
<line x1="549.75" y1="350.25" x2="548.80" y2="353.50" stroke="#808078" stroke-width="1.1"/>
<line x1="548.80" y1="353.50" x2="541.95" y2="353.50" stroke="#808078" stroke-width="1.1"/>
<line x1="541.95" y1="353.50" x2="535.10" y2="353.50" stroke="#8cd820" stroke-width="1.1"/>
<line x1="548.80" y1="353.50" x2="549.75" y2="359.40" stroke="#808078" stroke-width="1.1"/>
<line x1="549.75" y1="359.40" x2="550.70" y2="365.30" stroke="#8cd820" stroke-width="1.1"/>
<line x1="517.80" y1="347.30" x2="513.85" y2="353.35" stroke="#8cd820" stroke-width="1.1"/>
<line x1="513.85" y1="353.35" x2="509.90" y2="359.40" stroke="#c474b8" stroke-width="1.1"/>
<line x1="503.70" y1="353.50" x2="506.80" y2="356.45" stroke="#8cd820" stroke-width="1.1"/>
<line x1="506.80" y1="356.45" x2="509.90" y2="359.40" stroke="#c474b8" stroke-width="1.1"/>
<line x1="509.90" y1="359.40" x2="513.85" y2="362.35" stroke="#c474b8" stroke-width="1.1"/>
<line x1="513.85" y1="362.35" x2="517.80" y2="365.30" stroke="#8cd820" stroke-width="1.1"/>
<line x1="509.90" y1="359.40" x2="506.80" y2="365.40" stroke="#c474b8" stroke-width="1.1"/>
<line x1="506.80" y1="365.40" x2="503.70" y2="371.40" stroke="#8cd820" stroke-width="1.1"/>
<line x1="517.80" y1="365.30" x2="523.50" y2="365.30" stroke="#8cd820" stroke-width="1.1"/>
<line x1="523.50" y1="365.30" x2="529.20" y2="365.30" stroke="#c474b8" stroke-width="1.1"/>
<line x1="529.20" y1="365.30" x2="532.15" y2="359.40" stroke="#c474b8" stroke-width="1.1"/>
<line x1="532.15" y1="359.40" x2="535.10" y2="353.50" stroke="#8cd820" stroke-width="1.1"/>
<line x1="529.20" y1="365.30" x2="532.15" y2="368.35" stroke="#c474b8" stroke-width="1.1"/>
<line x1="532.15" y1="368.35" x2="535.10" y2="371.40" stroke="#8cd820" stroke-width="1.1"/>
<circle cx="517.80" cy="329.00" r="1.77" fill="url(#gSe)" stroke="#5c9400" stroke-width="0.45"/>
<circle cx="503.70" cy="335.20" r="1.77" fill="url(#gSe)" stroke="#5c9400" stroke-width="0.45"/>
<circle cx="509.90" cy="341.10" r="2.93" fill="url(#gIn)" stroke="#8a4482" stroke-width="0.55"/>
<circle cx="517.80" cy="347.30" r="1.77" fill="url(#gSe)" stroke="#5c9400" stroke-width="0.45"/>
<circle cx="529.20" cy="347.00" r="2.93" fill="url(#gIn)" stroke="#8a4482" stroke-width="0.55"/>
<circle cx="535.10" cy="335.20" r="1.77" fill="url(#gSe)" stroke="#5c9400" stroke-width="0.45"/>
<circle cx="548.80" cy="335.20" r="2.12" fill="url(#gZn)" stroke="#4a4a46" stroke-width="0.75"/>
<circle cx="550.70" cy="329.00" r="1.77" fill="url(#gSe)" stroke="#5c9400" stroke-width="0.45"/>
<circle cx="550.70" cy="347.00" r="1.77" fill="url(#gSe)" stroke="#5c9400" stroke-width="0.45"/>
<circle cx="503.70" cy="353.50" r="1.77" fill="url(#gSe)" stroke="#5c9400" stroke-width="0.45"/>
<circle cx="535.10" cy="353.50" r="1.77" fill="url(#gSe)" stroke="#5c9400" stroke-width="0.45"/>
<circle cx="548.80" cy="353.50" r="2.12" fill="url(#gZn)" stroke="#4a4a46" stroke-width="0.75"/>
<circle cx="509.90" cy="359.40" r="2.93" fill="url(#gIn)" stroke="#8a4482" stroke-width="0.55"/>
<circle cx="517.80" cy="365.30" r="1.77" fill="url(#gSe)" stroke="#5c9400" stroke-width="0.45"/>
<circle cx="529.20" cy="365.30" r="2.93" fill="url(#gIn)" stroke="#8a4482" stroke-width="0.55"/>
<circle cx="550.70" cy="365.30" r="1.77" fill="url(#gSe)" stroke="#5c9400" stroke-width="0.45"/>
<circle cx="503.70" cy="371.40" r="1.77" fill="url(#gSe)" stroke="#5c9400" stroke-width="0.45"/>
<circle cx="535.10" cy="371.40" r="1.77" fill="url(#gSe)" stroke="#5c9400" stroke-width="0.45"/>
<line x1="445.00" y1="425.30" x2="458.80" y2="425.30" stroke="#ee0000" stroke-width="1.8"/>
<polygon points="465.30,425.30 458.30,428.10 459.10,425.30 458.30,422.50" fill="#ee0000"/>
<line x1="445.00" y1="425.30" x2="437.76" y2="411.73" stroke="#00dd00" stroke-width="1.8"/>
<polygon points="434.70,406.00 440.47,410.86 437.62,411.47 435.53,413.49" fill="#00dd00"/>
<circle cx="445.0" cy="425.3" r="1.7499999999999998" fill="#2a2a55" stroke="#0000b8" stroke-width="1.1"/>
<circle cx="432.3" cy="401.1" r="0.8" fill="#222"/>
<circle cx="470.4" cy="425.3" r="0.8" fill="#222"/>
<line x1="497.37" y1="394.29" x2="502.15" y2="397.33" stroke="#c474b8" stroke-width="1.0"/>
<line x1="502.15" y1="397.33" x2="506.94" y2="400.38" stroke="#c474b8" stroke-width="1.0"/>
<line x1="497.37" y1="394.29" x2="502.15" y2="391.25" stroke="#c474b8" stroke-width="1.0"/>
<line x1="502.15" y1="391.25" x2="506.94" y2="388.20" stroke="#8cd820" stroke-width="1.0"/>
<line x1="497.37" y1="394.29" x2="492.59" y2="391.25" stroke="#c474b8" stroke-width="1.0"/>
<line x1="492.59" y1="391.25" x2="487.80" y2="388.20" stroke="#8cd820" stroke-width="1.0"/>
<line x1="497.37" y1="394.29" x2="497.37" y2="400.38" stroke="#c474b8" stroke-width="1.0"/>
<line x1="497.37" y1="400.38" x2="497.37" y2="406.47" stroke="#8cd820" stroke-width="1.0"/>
<line x1="516.51" y1="394.29" x2="521.30" y2="397.33" stroke="#c474b8" stroke-width="1.0"/>
<line x1="521.30" y1="397.33" x2="526.08" y2="400.38" stroke="#c474b8" stroke-width="1.0"/>
<line x1="516.51" y1="394.29" x2="521.30" y2="391.25" stroke="#c474b8" stroke-width="1.0"/>
<line x1="521.30" y1="391.25" x2="526.08" y2="388.20" stroke="#8cd820" stroke-width="1.0"/>
<line x1="516.51" y1="394.29" x2="511.73" y2="397.33" stroke="#c474b8" stroke-width="1.0"/>
<line x1="511.73" y1="397.33" x2="506.94" y2="400.38" stroke="#c474b8" stroke-width="1.0"/>
<line x1="516.51" y1="394.29" x2="511.73" y2="391.25" stroke="#c474b8" stroke-width="1.0"/>
<line x1="511.73" y1="391.25" x2="506.94" y2="388.20" stroke="#8cd820" stroke-width="1.0"/>
<line x1="516.51" y1="394.29" x2="516.51" y2="400.38" stroke="#c474b8" stroke-width="1.0"/>
<line x1="516.51" y1="400.38" x2="516.51" y2="406.47" stroke="#808078" stroke-width="1.0"/>
<line x1="506.94" y1="400.38" x2="511.73" y2="403.42" stroke="#c474b8" stroke-width="1.0"/>
<line x1="511.73" y1="403.42" x2="516.51" y2="406.47" stroke="#808078" stroke-width="1.0"/>
<line x1="506.94" y1="400.38" x2="502.15" y2="403.42" stroke="#c474b8" stroke-width="1.0"/>
<line x1="502.15" y1="403.42" x2="497.37" y2="406.47" stroke="#8cd820" stroke-width="1.0"/>
<line x1="506.94" y1="400.38" x2="506.94" y2="406.47" stroke="#c474b8" stroke-width="1.0"/>
<line x1="506.94" y1="406.47" x2="506.94" y2="412.56" stroke="#c474b8" stroke-width="1.0"/>
<line x1="506.94" y1="400.38" x2="506.94" y2="394.29" stroke="#c474b8" stroke-width="1.0"/>
<line x1="506.94" y1="394.29" x2="506.94" y2="388.20" stroke="#8cd820" stroke-width="1.0"/>
<line x1="526.08" y1="400.38" x2="530.87" y2="403.42" stroke="#c474b8" stroke-width="1.0"/>
<line x1="530.87" y1="403.42" x2="535.65" y2="406.47" stroke="#808078" stroke-width="1.0"/>
<line x1="526.08" y1="400.38" x2="530.87" y2="397.33" stroke="#c474b8" stroke-width="1.0"/>
<line x1="530.87" y1="397.33" x2="535.65" y2="394.29" stroke="#8cd820" stroke-width="1.0"/>
<line x1="526.08" y1="400.38" x2="521.30" y2="403.42" stroke="#c474b8" stroke-width="1.0"/>
<line x1="521.30" y1="403.42" x2="516.51" y2="406.47" stroke="#808078" stroke-width="1.0"/>
<line x1="526.08" y1="400.38" x2="526.08" y2="406.47" stroke="#c474b8" stroke-width="1.0"/>
<line x1="526.08" y1="406.47" x2="526.08" y2="412.56" stroke="#c474b8" stroke-width="1.0"/>
<line x1="526.08" y1="400.38" x2="526.08" y2="394.29" stroke="#c474b8" stroke-width="1.0"/>
<line x1="526.08" y1="394.29" x2="526.08" y2="388.20" stroke="#8cd820" stroke-width="1.0"/>
<line x1="516.51" y1="406.47" x2="521.30" y2="409.51" stroke="#808078" stroke-width="1.0"/>
<line x1="521.30" y1="409.51" x2="526.08" y2="412.56" stroke="#c474b8" stroke-width="1.0"/>
<line x1="516.51" y1="406.47" x2="511.73" y2="409.51" stroke="#808078" stroke-width="1.0"/>
<line x1="511.73" y1="409.51" x2="506.94" y2="412.56" stroke="#c474b8" stroke-width="1.0"/>
<line x1="516.51" y1="406.47" x2="516.51" y2="412.56" stroke="#808078" stroke-width="1.0"/>
<line x1="516.51" y1="412.56" x2="516.51" y2="418.65" stroke="#c474b8" stroke-width="1.0"/>
<line x1="535.65" y1="406.47" x2="540.43" y2="409.51" stroke="#808078" stroke-width="1.0"/>
<line x1="540.43" y1="409.51" x2="545.22" y2="412.56" stroke="#8cd820" stroke-width="1.0"/>
<line x1="535.65" y1="406.47" x2="530.87" y2="409.51" stroke="#808078" stroke-width="1.0"/>
<line x1="530.87" y1="409.51" x2="526.08" y2="412.56" stroke="#c474b8" stroke-width="1.0"/>
<line x1="535.65" y1="406.47" x2="535.65" y2="412.56" stroke="#808078" stroke-width="1.0"/>
<line x1="535.65" y1="412.56" x2="535.65" y2="418.65" stroke="#c474b8" stroke-width="1.0"/>
<line x1="535.65" y1="406.47" x2="535.65" y2="400.38" stroke="#808078" stroke-width="1.0"/>
<line x1="535.65" y1="400.38" x2="535.65" y2="394.29" stroke="#8cd820" stroke-width="1.0"/>
<line x1="506.94" y1="412.56" x2="511.73" y2="415.61" stroke="#c474b8" stroke-width="1.0"/>
<line x1="511.73" y1="415.61" x2="516.51" y2="418.65" stroke="#c474b8" stroke-width="1.0"/>
<line x1="506.94" y1="412.56" x2="502.15" y2="409.51" stroke="#c474b8" stroke-width="1.0"/>
<line x1="502.15" y1="409.51" x2="497.37" y2="406.47" stroke="#8cd820" stroke-width="1.0"/>
<line x1="506.94" y1="412.56" x2="506.94" y2="418.65" stroke="#c474b8" stroke-width="1.0"/>
<line x1="506.94" y1="418.65" x2="506.94" y2="424.74" stroke="#8cd820" stroke-width="1.0"/>
<line x1="526.08" y1="412.56" x2="530.87" y2="415.61" stroke="#c474b8" stroke-width="1.0"/>
<line x1="530.87" y1="415.61" x2="535.65" y2="418.65" stroke="#c474b8" stroke-width="1.0"/>
<line x1="526.08" y1="412.56" x2="521.30" y2="415.61" stroke="#c474b8" stroke-width="1.0"/>
<line x1="521.30" y1="415.61" x2="516.51" y2="418.65" stroke="#c474b8" stroke-width="1.0"/>
<line x1="526.08" y1="412.56" x2="526.08" y2="418.65" stroke="#c474b8" stroke-width="1.0"/>
<line x1="526.08" y1="418.65" x2="526.08" y2="424.74" stroke="#808078" stroke-width="1.0"/>
<line x1="516.51" y1="418.65" x2="521.30" y2="421.69" stroke="#c474b8" stroke-width="1.0"/>
<line x1="521.30" y1="421.69" x2="526.08" y2="424.74" stroke="#808078" stroke-width="1.0"/>
<line x1="516.51" y1="418.65" x2="511.73" y2="421.69" stroke="#c474b8" stroke-width="1.0"/>
<line x1="511.73" y1="421.69" x2="506.94" y2="424.74" stroke="#8cd820" stroke-width="1.0"/>
<line x1="516.51" y1="418.65" x2="516.51" y2="424.74" stroke="#c474b8" stroke-width="1.0"/>
<line x1="516.51" y1="424.74" x2="516.51" y2="430.83" stroke="#8cd820" stroke-width="1.0"/>
<line x1="535.65" y1="418.65" x2="540.43" y2="421.69" stroke="#c474b8" stroke-width="1.0"/>
<line x1="540.43" y1="421.69" x2="545.22" y2="424.74" stroke="#808078" stroke-width="1.0"/>
<line x1="535.65" y1="418.65" x2="540.43" y2="415.61" stroke="#c474b8" stroke-width="1.0"/>
<line x1="540.43" y1="415.61" x2="545.22" y2="412.56" stroke="#8cd820" stroke-width="1.0"/>
<line x1="535.65" y1="418.65" x2="530.87" y2="421.69" stroke="#c474b8" stroke-width="1.0"/>
<line x1="530.87" y1="421.69" x2="526.08" y2="424.74" stroke="#808078" stroke-width="1.0"/>
<line x1="535.65" y1="418.65" x2="535.65" y2="424.74" stroke="#c474b8" stroke-width="1.0"/>
<line x1="535.65" y1="424.74" x2="535.65" y2="430.83" stroke="#8cd820" stroke-width="1.0"/>
<line x1="526.08" y1="424.74" x2="530.87" y2="427.78" stroke="#808078" stroke-width="1.0"/>
<line x1="530.87" y1="427.78" x2="535.65" y2="430.83" stroke="#8cd820" stroke-width="1.0"/>
<line x1="526.08" y1="424.74" x2="521.30" y2="427.78" stroke="#808078" stroke-width="1.0"/>
<line x1="521.30" y1="427.78" x2="516.51" y2="430.83" stroke="#8cd820" stroke-width="1.0"/>
<line x1="545.22" y1="424.74" x2="550.00" y2="427.78" stroke="#808078" stroke-width="1.0"/>
<line x1="550.00" y1="427.78" x2="554.79" y2="430.83" stroke="#8cd820" stroke-width="1.0"/>
<line x1="545.22" y1="424.74" x2="540.43" y2="427.78" stroke="#808078" stroke-width="1.0"/>
<line x1="540.43" y1="427.78" x2="535.65" y2="430.83" stroke="#8cd820" stroke-width="1.0"/>
<line x1="545.22" y1="424.74" x2="545.22" y2="418.65" stroke="#808078" stroke-width="1.0"/>
<line x1="545.22" y1="418.65" x2="545.22" y2="412.56" stroke="#8cd820" stroke-width="1.0"/>
<polygon points="497.37,406.47 516.51,406.47 526.08,424.74 506.94,424.74" fill="none" stroke="#333" stroke-width="0.9"/>
<circle cx="487.80" cy="388.20" r="1.88" fill="url(#gSe)" stroke="#5c9400" stroke-width="0.45"/>
<circle cx="506.94" cy="388.20" r="1.88" fill="url(#gSe)" stroke="#5c9400" stroke-width="0.45"/>
<circle cx="526.08" cy="388.20" r="1.88" fill="url(#gSe)" stroke="#5c9400" stroke-width="0.45"/>
<circle cx="497.37" cy="394.29" r="3.02" fill="url(#gIn)" stroke="#8a4482" stroke-width="0.55"/>
<circle cx="497.37" cy="394.29" r="1.98" fill="url(#gSe)" stroke="#5c9400" stroke-width="0.45"/>
<circle cx="516.51" cy="394.29" r="3.02" fill="url(#gIn)" stroke="#8a4482" stroke-width="0.55"/>
<circle cx="516.51" cy="394.29" r="1.98" fill="url(#gSe)" stroke="#5c9400" stroke-width="0.45"/>
<circle cx="535.65" cy="394.29" r="1.88" fill="url(#gSe)" stroke="#5c9400" stroke-width="0.45"/>
<circle cx="506.94" cy="400.38" r="2.93" fill="url(#gIn)" stroke="#8a4482" stroke-width="0.55"/>
<circle cx="526.08" cy="400.38" r="2.93" fill="url(#gIn)" stroke="#8a4482" stroke-width="0.55"/>
<circle cx="497.37" cy="406.47" r="1.88" fill="url(#gSe)" stroke="#5c9400" stroke-width="0.45"/>
<circle cx="516.51" cy="406.47" r="2.42" fill="url(#gZn)" stroke="#4a4a46" stroke-width="0.75"/>
<circle cx="535.65" cy="406.47" r="2.42" fill="url(#gZn)" stroke="#4a4a46" stroke-width="0.75"/>
<circle cx="506.94" cy="412.56" r="3.02" fill="url(#gIn)" stroke="#8a4482" stroke-width="0.55"/>
<circle cx="506.94" cy="412.56" r="1.98" fill="url(#gSe)" stroke="#5c9400" stroke-width="0.45"/>
<circle cx="526.08" cy="412.56" r="3.02" fill="url(#gIn)" stroke="#8a4482" stroke-width="0.55"/>
<circle cx="526.08" cy="412.56" r="1.98" fill="url(#gSe)" stroke="#5c9400" stroke-width="0.45"/>
<circle cx="545.22" cy="412.56" r="1.88" fill="url(#gSe)" stroke="#5c9400" stroke-width="0.45"/>
<circle cx="516.51" cy="418.65" r="2.93" fill="url(#gIn)" stroke="#8a4482" stroke-width="0.55"/>
<circle cx="535.65" cy="418.65" r="2.93" fill="url(#gIn)" stroke="#8a4482" stroke-width="0.55"/>
<circle cx="506.94" cy="424.74" r="1.88" fill="url(#gSe)" stroke="#5c9400" stroke-width="0.45"/>
<circle cx="526.08" cy="424.74" r="2.42" fill="url(#gZn)" stroke="#4a4a46" stroke-width="0.75"/>
<circle cx="545.22" cy="424.74" r="2.42" fill="url(#gZn)" stroke="#4a4a46" stroke-width="0.75"/>
<circle cx="516.51" cy="430.83" r="1.88" fill="url(#gSe)" stroke="#5c9400" stroke-width="0.45"/>
<circle cx="535.65" cy="430.83" r="1.88" fill="url(#gSe)" stroke="#5c9400" stroke-width="0.45"/>
<circle cx="554.79" cy="430.83" r="1.88" fill="url(#gSe)" stroke="#5c9400" stroke-width="0.45"/>
<text x="0" y="0" font-family="'Liberation Serif', serif" font-size="10.55" font-weight="bold" text-anchor="start" fill="#000" transform="translate(472.40 454.00) scale(1 1.06)">stacking II with P</text>
<line x1="554.72" y1="454.40" x2="554.72" y2="457.50" stroke="#111" stroke-width="1.05"/>
<polygon points="554.72,452.90 553.27,455.30 556.17,455.30" fill="#111"/>
</svg>
</body></html>
